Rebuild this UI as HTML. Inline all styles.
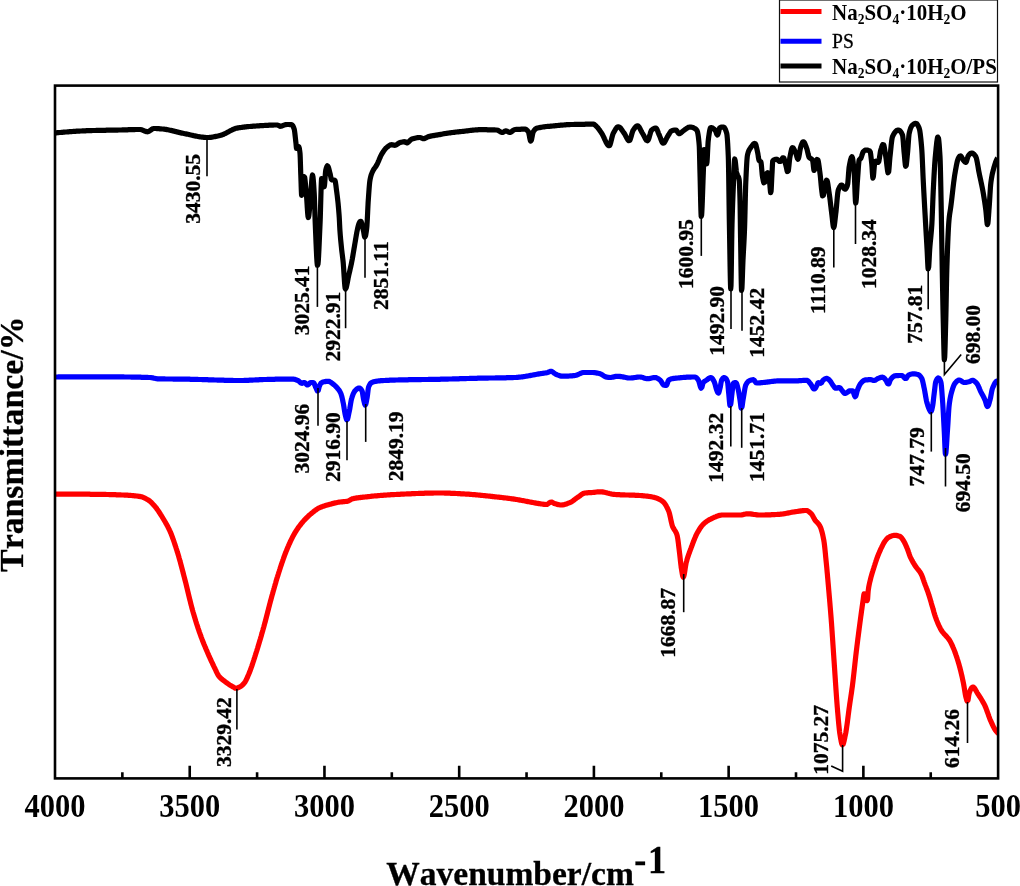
<!DOCTYPE html>
<html lang="en">
<head>
<meta charset="utf-8">
<title>FTIR spectra</title>
<style>
html,body{margin:0;padding:0;background:#fff;}
body{width:1020px;height:886px;overflow:hidden;}
svg{display:block;}
text{font-family:"Liberation Serif","Times New Roman",Times,serif;font-weight:bold;fill:#000;}
.ann{font-size:21.5px;stroke:#000;stroke-width:0.35;}
.tick{font-size:30.5px;text-anchor:middle;}
.title{font-size:33.5px;font-kerning:none;stroke:#000;stroke-width:0.3;}
.leg{font-size:21px;}
.lead{fill:none;stroke:#000;stroke-width:1.6;}
.curve{fill:none;stroke-width:5.2;stroke-linejoin:round;stroke-linecap:butt;}
</style>
</head>
<body>
<svg width="1020" height="886" viewBox="0 0 1020 886">
<rect x="0" y="0" width="1020" height="886" fill="#fff"/>
<defs><clipPath id="plot"><rect x="55.0" y="85.6" width="943.1" height="692.8"/></clipPath></defs>
<g clip-path="url(#plot)">
<path class="curve" stroke="#ff0000" d="M54.5 494.2L55.5 494.2L56.5 494.2L57.5 494.2L58.5 494.2L59.5 494.2L60.5 494.2L61.5 494.2L62.5 494.2L63.5 494.2L64.5 494.2L65.5 494.2L66.5 494.2L67.5 494.2L68.5 494.2L69.5 494.2L70.5 494.2L71.5 494.2L72.5 494.2L73.5 494.2L74.5 494.2L75.5 494.2L76.5 494.2L77.5 494.2L78.5 494.2L79.5 494.2L80.5 494.2L81.5 494.2L82.5 494.2L83.5 494.2L84.5 494.2L85.5 494.2L86.5 494.2L87.5 494.2L88.5 494.2L89.5 494.2L90.5 494.3L91.5 494.3L92.5 494.3L93.5 494.3L94.5 494.3L95.5 494.3L96.5 494.3L97.5 494.3L98.5 494.3L99.5 494.3L100.5 494.3L101.5 494.4L102.5 494.4L103.5 494.4L104.5 494.4L105.5 494.4L106.5 494.5L107.5 494.5L108.5 494.5L109.5 494.6L110.5 494.6L111.5 494.6L112.5 494.6L113.5 494.7L114.5 494.7L115.5 494.7L116.5 494.8L117.5 494.8L118.5 494.9L119.5 494.9L120.5 494.9L121.5 495.0L122.5 495.0L123.5 495.0L124.5 495.1L125.5 495.1L126.5 495.2L127.5 495.2L128.5 495.3L129.5 495.4L130.5 495.4L131.5 495.5L132.5 495.6L133.5 495.7L134.5 495.8L135.5 495.9L136.5 496.0L137.5 496.1L138.5 496.3L139.5 496.4L140.5 496.6L141.5 496.8L142.5 497.1L143.5 497.5L144.5 498.0L145.5 498.4L146.4 498.9L147.3 499.4L148.2 499.9L149.1 500.6L149.9 501.2L150.7 501.9L151.5 502.7L152.3 503.5L153.0 504.3L153.7 505.0L154.4 505.8L155.1 506.6L155.8 507.5L156.5 508.3L157.1 509.2L157.7 510.0L158.3 510.9L158.9 511.8L159.5 512.7L160.1 513.6L160.7 514.6L161.3 515.5L161.9 516.5L162.5 517.5L163.1 518.5L163.7 519.5L164.3 520.5L164.9 521.5L165.5 522.5L166.0 523.4L166.5 524.3L167.0 525.2L167.5 526.1L168.0 527.1L168.5 528.1L169.0 529.1L169.5 530.2L170.0 531.2L170.5 532.4L170.9 533.3L171.3 534.3L171.7 535.3L172.1 536.4L172.5 537.5L172.9 538.6L173.3 539.7L173.7 540.8L174.1 542.0L174.5 543.2L174.9 544.4L175.3 545.6L175.7 546.8L176.1 548.1L176.5 549.3L176.9 550.6L177.3 551.9L177.6 552.8L177.9 553.8L178.2 554.8L178.5 555.8L178.8 556.8L179.1 557.9L179.4 558.9L179.7 560.0L180.0 561.1L180.3 562.1L180.6 563.2L180.9 564.4L181.2 565.5L181.5 566.6L181.8 567.7L182.1 568.9L182.4 570.0L182.7 571.2L183.0 572.3L183.3 573.5L183.6 574.6L183.9 575.8L184.2 576.9L184.5 578.1L184.8 579.2L185.1 580.4L185.4 581.5L185.7 582.7L186.0 583.9L186.3 585.1L186.6 586.4L186.9 587.6L187.2 588.8L187.5 590.1L187.8 591.3L188.1 592.6L188.4 593.8L188.7 595.1L189.0 596.3L189.3 597.6L189.6 598.8L189.9 600.0L190.2 601.2L190.5 602.4L190.8 603.6L191.1 604.8L191.4 605.9L191.7 607.1L192.0 608.2L192.3 609.3L192.6 610.4L192.9 611.4L193.2 612.5L193.5 613.5L193.8 614.5L194.1 615.5L194.4 616.5L194.7 617.5L195.0 618.5L195.3 619.5L195.6 620.5L195.9 621.5L196.2 622.4L196.6 623.7L197.0 624.9L197.4 626.1L197.8 627.4L198.2 628.6L198.6 629.7L199.0 630.9L199.4 632.1L199.8 633.2L200.2 634.3L200.6 635.4L201.0 636.5L201.4 637.6L201.8 638.6L202.2 639.7L202.6 640.7L203.0 641.7L203.4 642.7L203.8 643.7L204.2 644.7L204.6 645.6L205.0 646.6L205.4 647.6L205.8 648.5L206.2 649.5L206.6 650.4L207.0 651.3L207.4 652.3L207.8 653.2L208.2 654.1L208.7 655.3L209.2 656.4L209.7 657.5L210.2 658.6L210.7 659.7L211.2 660.8L211.7 661.9L212.2 662.9L212.7 664.0L213.2 665.0L213.7 666.1L214.2 667.1L214.7 668.1L215.2 669.2L215.7 670.2L216.2 671.3L216.7 672.4L217.2 673.4L217.7 674.4L218.3 675.4L218.9 676.2L219.6 677.0L220.3 677.8L221.1 678.5L221.9 679.2L222.7 679.8L223.6 680.5L224.5 681.1L225.3 681.8L226.1 682.4L227.0 683.0L227.9 683.7L228.8 684.3L229.7 684.9L230.6 685.4L231.5 686.0L232.4 686.5L233.3 687.1L234.2 687.6L235.2 688.1L236.2 688.2L237.2 688.1L238.2 687.7L239.2 687.2L240.1 686.7L241.0 686.2L241.9 685.5L242.7 684.8L243.4 684.0L244.1 683.2L244.8 682.3L245.4 681.3L245.9 680.4L246.4 679.5L246.9 678.4L247.4 677.3L247.8 676.4L248.2 675.4L248.6 674.5L249.0 673.5L249.4 672.6L249.8 671.5L250.2 670.5L250.6 669.4L251.0 668.3L251.4 667.2L251.8 666.1L252.2 664.9L252.6 663.7L253.0 662.5L253.4 661.3L253.8 660.1L254.2 658.8L254.6 657.6L255.0 656.3L255.4 655.1L255.8 653.8L256.2 652.5L256.6 651.3L257.0 650.0L257.4 648.7L257.7 647.8L258.0 646.8L258.3 645.8L258.6 644.8L258.9 643.8L259.2 642.8L259.5 641.8L259.8 640.8L260.1 639.8L260.4 638.8L260.7 637.7L261.0 636.7L261.3 635.7L261.6 634.6L261.9 633.6L262.2 632.5L262.5 631.4L262.8 630.4L263.1 629.3L263.4 628.2L263.7 627.2L264.0 626.1L264.3 625.0L264.6 623.9L264.9 622.8L265.2 621.7L265.5 620.6L265.8 619.4L266.1 618.3L266.4 617.1L266.7 615.9L267.0 614.8L267.3 613.6L267.6 612.4L267.9 611.2L268.2 610.1L268.5 608.9L268.8 607.7L269.1 606.6L269.4 605.4L269.7 604.2L270.0 603.1L270.3 601.9L270.6 600.8L270.9 599.7L271.2 598.6L271.5 597.5L271.8 596.4L272.1 595.3L272.4 594.3L272.7 593.2L273.0 592.1L273.3 591.0L273.6 590.0L273.9 588.9L274.2 587.9L274.5 586.8L274.8 585.8L275.1 584.7L275.4 583.7L275.7 582.7L276.0 581.6L276.3 580.6L276.6 579.6L276.9 578.6L277.2 577.6L277.5 576.7L277.8 575.7L278.1 574.7L278.4 573.8L278.8 572.5L279.2 571.3L279.6 570.0L280.0 568.8L280.4 567.5L280.8 566.3L281.2 565.1L281.6 563.9L282.0 562.7L282.4 561.6L282.8 560.4L283.2 559.3L283.6 558.1L284.0 557.0L284.4 555.9L284.8 554.8L285.2 553.8L285.6 552.8L286.0 551.7L286.4 550.8L286.8 549.8L287.2 548.8L287.6 547.9L288.0 546.9L288.4 546.0L288.8 545.0L289.3 543.9L289.8 542.8L290.3 541.7L290.8 540.6L291.3 539.6L291.8 538.6L292.3 537.6L292.8 536.6L293.3 535.7L293.8 534.8L294.3 533.9L294.9 532.9L295.5 531.9L296.1 531.0L296.7 530.0L297.3 529.1L297.9 528.2L298.5 527.3L299.1 526.5L299.7 525.7L300.4 524.8L301.1 523.9L301.8 523.0L302.5 522.2L303.2 521.4L303.9 520.6L304.6 519.8L305.3 519.1L306.0 518.4L306.8 517.6L307.6 516.8L308.4 516.0L309.2 515.3L310.0 514.6L310.8 513.9L311.6 513.3L312.4 512.6L313.2 512.0L314.0 511.3L314.8 510.7L315.7 510.1L316.6 509.4L317.5 508.8L318.4 508.3L319.3 507.8L320.3 507.4L321.3 507.0L322.3 506.6L323.3 506.2L324.3 505.9L325.3 505.6L326.3 505.3L327.3 505.0L328.3 504.7L329.3 504.4L330.3 504.2L331.3 503.9L332.3 503.6L333.3 503.4L334.3 503.1L335.3 502.9L336.3 502.7L337.3 502.5L338.3 502.3L339.3 502.1L340.3 502.0L341.3 501.9L342.3 501.8L343.3 501.7L344.3 501.6L345.3 501.5L346.3 501.4L347.3 501.3L348.3 501.0L349.2 500.5L350.1 500.0L351.0 499.4L351.9 498.9L352.9 498.7L353.9 498.4L354.9 498.3L355.9 498.1L356.9 497.9L357.9 497.8L358.9 497.7L359.9 497.6L360.9 497.4L361.9 497.3L362.9 497.2L363.9 497.1L364.9 497.0L365.9 496.9L366.9 496.8L367.9 496.7L368.9 496.6L369.9 496.5L370.9 496.3L371.9 496.2L372.9 496.1L373.9 496.0L374.9 495.9L375.9 495.9L376.9 495.8L377.9 495.7L378.9 495.6L379.9 495.5L380.9 495.4L381.9 495.3L382.9 495.3L383.9 495.2L384.9 495.1L385.9 495.1L386.9 495.0L387.9 494.9L388.9 494.8L389.9 494.8L390.9 494.7L391.9 494.7L392.9 494.6L393.9 494.6L394.9 494.5L395.9 494.5L396.9 494.4L397.9 494.4L398.9 494.3L399.9 494.3L400.9 494.2L401.9 494.2L402.9 494.1L403.9 494.1L404.9 494.0L405.9 494.0L406.9 493.9L407.9 493.9L408.9 493.8L409.9 493.8L410.9 493.8L411.9 493.7L412.9 493.7L413.9 493.6L414.9 493.6L415.9 493.5L416.9 493.5L417.9 493.5L418.9 493.4L419.9 493.4L420.9 493.4L421.9 493.3L422.9 493.3L423.9 493.3L424.9 493.2L425.9 493.2L426.9 493.2L427.9 493.2L428.9 493.1L429.9 493.1L430.9 493.1L431.9 493.1L432.9 493.1L433.9 493.0L434.9 493.0L435.9 493.0L436.9 493.0L437.9 493.0L438.9 493.0L439.9 493.0L440.9 493.0L441.9 493.0L442.9 493.0L443.9 493.0L444.9 493.1L445.9 493.1L446.9 493.1L447.9 493.1L448.9 493.2L449.9 493.2L450.9 493.3L451.9 493.3L452.9 493.3L453.9 493.4L454.9 493.4L455.9 493.5L456.9 493.5L457.9 493.6L458.9 493.7L459.9 493.7L460.9 493.8L461.9 493.8L462.9 493.9L463.9 493.9L464.9 494.0L465.9 494.1L466.9 494.1L467.9 494.2L468.9 494.2L469.9 494.3L470.9 494.4L471.9 494.5L472.9 494.6L473.9 494.6L474.9 494.7L475.9 494.8L476.9 494.9L477.9 495.0L478.9 495.1L479.9 495.2L480.9 495.3L481.9 495.4L482.9 495.5L483.9 495.6L484.9 495.7L485.9 495.8L486.9 495.9L487.9 496.0L488.9 496.1L489.9 496.2L490.9 496.3L491.9 496.4L492.9 496.6L493.9 496.7L494.9 496.8L495.9 496.9L496.9 497.0L497.9 497.1L498.9 497.2L499.9 497.3L500.9 497.4L501.9 497.5L502.9 497.7L503.9 497.8L504.9 497.9L505.9 498.0L506.9 498.1L507.9 498.3L508.9 498.4L509.9 498.5L510.9 498.7L511.9 498.8L512.9 498.9L513.9 499.1L514.9 499.2L515.9 499.4L516.9 499.5L517.9 499.7L518.9 499.9L519.9 500.1L520.9 500.3L521.9 500.5L522.9 500.6L523.9 500.8L524.9 501.0L525.9 501.2L526.9 501.4L527.9 501.6L528.9 501.8L529.9 502.0L530.9 502.2L531.9 502.3L532.9 502.5L533.9 502.7L534.9 502.9L535.9 503.1L536.9 503.3L537.9 503.4L538.9 503.6L539.9 503.7L540.9 503.9L541.9 504.0L542.9 504.2L543.9 504.3L544.9 504.4L545.9 504.5L546.9 504.4L547.8 503.9L548.7 503.3L549.6 502.6L550.5 502.2L551.5 502.0L552.5 502.4L553.4 502.9L554.3 503.5L555.3 503.8L556.3 504.1L557.3 504.4L558.3 504.6L559.3 504.8L560.3 505.0L561.3 505.0L562.3 504.9L563.3 504.8L564.3 504.6L565.3 504.3L566.3 504.0L567.3 503.6L568.3 503.2L569.3 502.8L570.3 502.4L571.2 501.9L572.1 501.4L573.0 500.8L573.9 500.1L574.7 499.5L575.5 498.9L576.4 498.2L577.3 497.6L578.2 497.0L579.1 496.4L579.9 495.8L580.7 495.2L581.6 494.5L582.5 493.9L583.4 493.5L584.4 493.1L585.4 493.0L586.4 492.9L587.4 492.8L588.4 492.7L589.4 492.7L590.4 492.6L591.4 492.6L592.4 492.5L593.4 492.4L594.4 492.3L595.4 492.2L596.4 492.0L597.4 491.9L598.4 491.8L599.4 491.8L600.4 491.8L601.4 491.8L602.4 491.9L603.4 492.1L604.4 492.3L605.4 492.5L606.4 492.7L607.4 493.0L608.4 493.2L609.4 493.5L610.4 493.7L611.4 494.0L612.4 494.2L613.4 494.3L614.4 494.4L615.4 494.5L616.4 494.6L617.4 494.6L618.4 494.7L619.4 494.7L620.4 494.8L621.4 494.8L622.4 494.9L623.4 494.9L624.4 494.9L625.4 495.0L626.4 495.0L627.4 495.0L628.4 495.0L629.4 495.1L630.4 495.1L631.4 495.1L632.4 495.2L633.4 495.2L634.4 495.2L635.4 495.3L636.4 495.3L637.4 495.4L638.4 495.4L639.4 495.5L640.4 495.5L641.4 495.6L642.4 495.7L643.4 495.8L644.4 495.9L645.4 496.0L646.4 496.1L647.4 496.2L648.4 496.3L649.4 496.5L650.4 496.6L651.4 496.8L652.4 497.0L653.4 497.2L654.4 497.4L655.4 497.7L656.4 498.1L657.4 498.4L658.4 498.9L659.3 499.3L660.2 499.8L661.1 500.3L662.0 500.9L662.9 501.6L663.7 502.3L664.4 503.2L665.0 504.0L665.6 504.9L666.2 505.9L666.7 506.9L667.2 507.8L667.7 508.9L668.2 510.0L668.6 510.9L669.0 511.9L669.3 512.9L669.6 514.0L669.9 515.3L670.2 516.6L670.5 518.0L670.8 519.5L671.1 520.9L671.4 522.2L671.7 523.5L672.0 524.7L672.3 525.7L672.7 526.8L673.2 527.8L673.7 528.7L674.3 529.7L674.9 530.5L675.5 531.5L676.0 532.4L676.5 533.6L676.9 534.7L677.2 535.7L677.5 537.2L677.7 538.4L677.9 539.7L678.1 541.2L678.3 542.7L678.5 544.3L678.7 546.0L678.9 547.6L679.1 549.3L679.3 550.9L679.5 552.5L679.7 554.1L679.9 555.9L680.1 557.8L680.3 559.6L680.5 561.5L680.7 563.3L680.9 565.0L681.1 566.5L681.2 567.5L681.5 569.1L681.7 570.4L681.9 571.7L682.1 572.9L682.3 574.1L682.5 575.1L682.8 576.3L683.3 577.2L683.9 576.0L684.2 574.7L684.4 573.6L684.6 572.4L684.8 571.1L685.0 569.8L685.2 568.4L685.4 567.1L685.6 565.8L685.8 564.7L686.0 563.6L686.2 562.5L686.6 561.2L686.9 560.1L687.2 559.1L687.5 558.1L687.8 557.1L688.2 555.9L688.6 554.7L689.0 553.6L689.4 552.5L689.8 551.4L690.2 550.3L690.6 549.2L691.0 548.2L691.4 547.1L691.8 546.0L692.2 545.0L692.6 543.9L693.0 542.8L693.4 541.8L693.8 540.7L694.2 539.7L694.6 538.7L695.0 537.8L695.4 536.8L695.9 535.7L696.4 534.6L696.9 533.6L697.4 532.7L697.9 531.8L698.5 530.8L699.1 529.8L699.7 528.8L700.3 527.9L700.9 527.1L701.5 526.3L702.2 525.4L702.9 524.6L703.7 523.8L704.5 523.1L705.3 522.4L706.1 521.8L707.0 521.2L707.9 520.6L708.8 520.0L709.7 519.5L710.6 519.1L711.6 518.6L712.6 518.1L713.6 517.7L714.6 517.2L715.6 516.8L716.6 516.3L717.6 516.0L718.6 515.6L719.6 515.4L720.6 515.2L721.6 515.0L722.6 515.0L723.6 515.0L724.6 515.0L725.6 515.0L726.6 515.0L727.6 515.0L728.6 515.0L729.6 515.0L730.6 515.0L731.6 515.0L732.6 515.0L733.6 515.0L734.6 515.0L735.6 515.0L736.6 515.0L737.6 515.0L738.6 515.0L739.6 515.0L740.6 515.0L741.6 514.9L742.6 514.7L743.6 514.4L744.6 514.2L745.6 514.0L746.6 513.8L747.6 513.8L748.6 513.8L749.6 513.8L750.6 513.9L751.6 514.1L752.6 514.2L753.6 514.4L754.6 514.5L755.6 514.6L756.6 514.8L757.6 514.9L758.6 515.0L759.6 515.0L760.6 515.0L761.6 515.0L762.6 515.0L763.6 515.0L764.6 515.0L765.6 514.9L766.6 514.9L767.6 514.9L768.6 514.8L769.6 514.8L770.6 514.8L771.6 514.7L772.6 514.7L773.6 514.6L774.6 514.6L775.6 514.5L776.6 514.5L777.6 514.4L778.6 514.3L779.6 514.3L780.6 514.2L781.6 514.1L782.6 514.0L783.6 513.8L784.6 513.7L785.6 513.5L786.6 513.3L787.6 513.1L788.6 512.9L789.6 512.7L790.6 512.5L791.6 512.3L792.6 512.1L793.6 512.0L794.6 511.8L795.6 511.7L796.6 511.5L797.6 511.4L798.6 511.2L799.6 511.1L800.6 510.9L801.6 510.8L802.6 510.7L803.6 510.6L804.6 510.5L805.6 510.5L806.6 510.5L807.6 510.8L808.5 511.4L809.3 512.0L810.1 512.7L810.9 513.4L811.6 514.1L812.2 515.0L812.8 516.0L813.3 517.0L813.8 517.9L814.3 518.9L814.9 519.9L815.5 520.7L816.2 521.5L816.9 522.2L817.6 522.9L818.3 523.7L819.0 524.6L819.6 525.5L820.1 526.4L820.6 527.6L821.0 528.6L821.4 529.9L821.7 530.9L822.0 532.0L822.3 533.2L822.6 534.4L822.9 535.8L823.2 537.2L823.4 538.2L823.6 539.2L823.8 540.3L824.0 541.5L824.2 542.9L824.4 544.4L824.6 546.1L824.8 547.9L825.0 549.8L825.2 551.8L825.3 552.8L825.4 553.8L825.5 554.8L825.6 555.9L825.7 556.9L825.8 557.9L825.9 559.0L826.0 560.0L826.1 561.0L826.2 562.0L826.4 564.0L826.5 565.0L826.6 566.0L826.7 567.1L826.8 568.1L826.9 569.2L827.0 570.3L827.1 571.4L827.2 572.4L827.3 573.5L827.4 574.6L827.5 575.8L827.6 576.9L827.7 578.0L827.8 579.1L827.9 580.3L828.0 581.4L828.1 582.5L828.2 583.7L828.3 584.8L828.4 586.0L828.5 587.1L828.6 588.3L828.7 589.4L828.8 590.6L828.9 591.7L829.0 592.9L829.1 594.0L829.2 595.2L829.3 596.3L829.4 597.5L829.5 598.6L829.6 599.8L829.7 601.0L829.8 602.1L829.9 603.3L830.0 604.5L830.1 605.7L830.2 606.9L830.3 608.1L830.4 609.3L830.5 610.5L830.6 611.7L830.7 613.0L830.8 614.2L830.9 615.5L831.0 616.8L831.1 618.0L831.2 619.3L831.3 620.7L831.4 622.0L831.5 623.3L831.6 624.7L831.7 626.1L831.8 627.5L831.9 628.9L832.0 630.4L832.1 631.8L832.2 633.3L832.3 634.8L832.4 636.2L832.5 637.7L832.6 639.2L832.7 640.7L832.8 642.2L832.9 643.7L833.0 645.2L833.1 646.7L833.2 648.2L833.3 649.7L833.4 651.2L833.5 652.7L833.6 654.2L833.7 655.6L833.8 657.1L833.9 658.6L834.0 660.0L834.1 661.4L834.2 662.9L834.3 664.4L834.4 665.8L834.5 667.3L834.6 668.8L834.7 670.3L834.8 671.8L834.9 673.3L835.0 674.8L835.1 676.3L835.2 677.8L835.3 679.3L835.4 680.8L835.5 682.3L835.6 683.8L835.7 685.3L835.8 686.8L835.9 688.3L836.0 689.7L836.1 691.2L836.2 692.6L836.3 694.1L836.4 695.5L836.5 696.9L836.6 698.3L836.7 699.6L836.8 701.0L836.9 702.3L837.0 703.6L837.1 704.9L837.2 706.2L837.3 707.4L837.4 708.6L837.5 709.8L837.6 711.0L837.7 712.2L837.8 713.3L837.9 714.5L838.0 715.6L838.1 716.8L838.2 717.9L838.3 719.1L838.4 720.2L838.5 721.3L838.6 722.4L838.7 723.5L838.8 724.6L838.9 725.6L839.0 726.6L839.2 728.5L839.4 730.3L839.6 732.0L839.8 733.4L840.0 734.7L840.2 735.9L840.4 737.1L840.6 738.2L840.8 739.3L841.0 740.4L841.2 741.4L841.5 742.8L841.8 743.9L842.2 744.8L843.1 744.3L843.5 743.2L843.8 742.1L844.1 740.9L844.4 739.5L844.7 738.1L845.0 736.6L845.3 735.2L845.6 733.7L845.8 732.7L846.0 731.5L846.2 730.3L846.4 729.0L846.6 727.6L846.8 726.2L847.0 724.8L847.2 723.3L847.4 721.8L847.6 720.2L847.8 718.7L848.0 717.1L848.2 715.5L848.4 714.0L848.6 712.4L848.8 710.9L849.0 709.4L849.2 707.9L849.4 706.5L849.6 705.1L849.8 703.7L850.0 702.4L850.2 701.0L850.4 699.7L850.6 698.4L850.8 697.0L851.0 695.7L851.2 694.3L851.4 693.0L851.6 691.6L851.8 690.2L852.0 688.7L852.2 687.3L852.4 685.8L852.6 684.2L852.8 682.6L853.0 681.0L853.2 679.3L853.4 677.6L853.6 675.8L853.8 674.0L854.0 672.2L854.2 670.4L854.4 668.5L854.6 666.7L854.8 664.9L855.0 663.0L855.2 661.2L855.4 659.4L855.6 657.6L855.8 655.8L856.0 654.1L856.2 652.4L856.4 650.8L856.6 649.1L856.8 647.5L857.0 645.8L857.2 644.2L857.4 642.6L857.6 641.0L857.8 639.4L858.0 637.8L858.2 636.3L858.4 634.7L858.6 633.2L858.8 631.6L859.0 630.1L859.2 628.5L859.4 627.0L859.6 625.5L859.8 624.0L860.0 622.5L860.2 621.0L860.4 619.5L860.6 618.0L860.8 616.5L861.0 615.1L861.2 613.6L861.4 612.1L861.6 610.7L861.8 609.3L862.0 607.8L862.2 606.4L862.4 605.1L862.6 603.7L862.8 602.3L863.0 601.0L863.2 599.5L863.4 597.9L863.6 596.3L863.8 594.9L864.0 593.9L865.0 594.1L865.6 595.2L866.1 596.3L866.4 597.5L866.6 598.6L866.8 599.6L867.1 600.7L867.6 599.1L867.7 597.8L867.8 596.4L867.9 594.9L868.0 593.4L868.1 592.1L868.2 590.9L868.4 589.3L868.6 588.0L868.8 586.8L869.0 585.7L869.2 584.7L869.5 583.3L869.8 582.0L870.1 580.8L870.4 579.6L870.7 578.4L871.0 577.2L871.3 576.1L871.6 575.0L871.9 574.0L872.2 573.0L872.5 572.0L872.8 571.1L873.2 569.8L873.6 568.6L874.0 567.3L874.4 566.0L874.8 564.8L875.2 563.5L875.6 562.3L876.0 561.0L876.4 559.9L876.8 558.7L877.2 557.6L877.6 556.5L878.0 555.5L878.4 554.5L878.8 553.5L879.2 552.6L879.7 551.4L880.2 550.3L880.7 549.2L881.2 548.2L881.7 547.2L882.2 546.1L882.7 545.1L883.2 544.1L883.7 543.2L884.3 542.2L884.9 541.3L885.5 540.5L886.1 539.7L886.8 538.8L887.6 538.0L888.5 537.4L889.4 536.9L890.3 536.5L891.3 536.1L892.3 535.7L893.3 535.5L894.3 535.3L895.3 535.3L896.3 535.4L897.3 535.6L898.3 535.9L899.3 536.2L900.3 536.7L901.1 537.3L901.8 538.2L902.4 539.0L903.0 539.9L903.6 540.9L904.2 541.9L904.7 542.8L905.2 543.9L905.7 545.0L906.2 546.1L906.6 547.0L907.0 548.0L907.4 548.9L907.8 550.0L908.2 551.1L908.6 552.3L909.0 553.4L909.4 554.6L909.8 555.7L910.2 556.7L910.6 557.6L911.1 558.6L911.6 559.6L912.1 560.6L912.6 561.5L913.1 562.4L913.7 563.4L914.3 564.3L914.9 565.3L915.5 566.2L916.1 567.1L916.8 568.0L917.5 568.9L918.2 569.7L918.9 570.6L919.6 571.5L920.2 572.4L920.8 573.4L921.3 574.3L921.8 575.4L922.2 576.4L922.6 577.5L923.0 578.6L923.4 579.8L923.8 580.9L924.2 582.1L924.6 583.2L925.0 584.3L925.4 585.4L925.8 586.4L926.2 587.4L926.6 588.5L927.0 589.5L927.4 590.6L927.8 591.7L928.2 592.9L928.6 594.1L929.0 595.4L929.3 596.3L929.6 597.3L929.9 598.3L930.2 599.3L930.5 600.3L930.8 601.3L931.1 602.3L931.4 603.4L931.7 604.4L932.0 605.4L932.3 606.4L932.6 607.4L932.9 608.5L933.2 609.6L933.5 610.6L933.8 611.7L934.1 612.7L934.4 613.7L934.7 614.7L935.1 615.9L935.5 617.1L935.9 618.2L936.3 619.3L936.7 620.4L937.1 621.4L937.5 622.4L937.9 623.4L938.3 624.3L938.8 625.4L939.3 626.4L939.8 627.4L940.3 628.4L940.8 629.3L941.4 630.3L942.0 631.2L942.6 632.1L943.3 632.9L944.0 633.7L944.7 634.5L945.4 635.2L946.1 636.0L946.8 636.8L947.5 637.6L948.2 638.4L948.9 639.3L949.5 640.2L950.1 641.1L950.6 642.1L951.1 643.1L951.6 644.1L952.1 645.2L952.6 646.3L953.1 647.5L953.5 648.4L953.9 649.4L954.3 650.4L954.7 651.4L955.1 652.5L955.5 653.6L955.9 654.8L956.3 655.9L956.7 657.1L957.1 658.3L957.5 659.6L957.8 660.5L958.1 661.5L958.4 662.5L958.7 663.5L959.0 664.5L959.3 665.6L959.6 666.7L959.9 667.8L960.2 669.0L960.5 670.1L960.8 671.3L961.1 672.6L961.4 673.8L961.7 675.1L962.0 676.4L962.3 677.8L962.6 679.2L962.9 680.6L963.2 682.0L963.5 683.5L963.7 684.5L963.9 685.7L964.1 686.9L964.3 688.1L964.5 689.4L964.7 690.6L964.9 691.9L965.1 693.1L965.3 694.2L965.5 695.3L965.8 696.6L966.1 697.8L966.4 698.9L966.7 700.0L967.1 701.1L968.0 700.2L968.2 699.1L968.4 697.9L968.6 696.5L968.8 695.2L969.0 694.1L969.3 692.7L969.7 691.7L970.1 690.7L970.6 689.7L971.1 688.7L971.7 687.8L972.5 687.1L973.5 687.2L974.3 687.9L974.9 688.8L975.5 689.8L976.0 690.7L976.5 691.6L977.0 692.5L977.6 693.5L978.2 694.4L978.8 695.3L979.4 696.2L980.0 697.1L980.6 698.0L981.2 699.0L981.8 700.0L982.4 701.0L982.9 701.9L983.4 702.8L983.9 703.7L984.4 704.7L984.9 705.7L985.4 706.8L985.8 707.8L986.2 708.8L986.6 709.9L987.0 711.0L987.4 712.1L987.8 713.2L988.2 714.3L988.6 715.5L989.0 716.6L989.4 717.6L989.8 718.7L990.2 719.7L990.6 720.6L991.1 721.7L991.6 722.9L992.1 724.0L992.6 725.0L993.1 726.1L993.6 727.1L994.1 728.0L994.6 728.9L995.2 729.9L995.8 730.7L996.5 731.6L997.2 732.4L998.0 733.2L998.4 733.5"/>
<path class="curve" stroke="#0000ff" d="M54.5 377.0L55.5 377.0L56.5 377.0L57.5 377.0L58.5 376.9L59.5 376.9L60.5 376.9L61.5 376.9L62.5 376.9L63.5 376.9L64.5 376.9L65.5 376.9L66.5 376.9L67.5 376.8L68.5 376.8L69.5 376.8L70.5 376.8L71.5 376.8L72.5 376.8L73.5 376.8L74.5 376.8L75.5 376.8L76.5 376.8L77.5 376.8L78.5 376.8L79.5 376.8L80.5 376.8L81.5 376.8L82.5 376.8L83.5 376.8L84.5 376.8L85.5 376.8L86.5 376.8L87.5 376.8L88.5 376.8L89.5 376.8L90.5 376.8L91.5 376.8L92.5 376.8L93.5 376.8L94.5 376.8L95.5 376.8L96.5 376.8L97.5 376.8L98.5 376.8L99.5 376.8L100.5 376.8L101.5 376.8L102.5 376.8L103.5 376.8L104.5 376.8L105.5 376.8L106.5 376.8L107.5 376.8L108.5 376.8L109.5 376.8L110.5 376.8L111.5 376.8L112.5 376.8L113.5 376.8L114.5 376.8L115.5 376.9L116.5 376.9L117.5 376.9L118.5 376.9L119.5 376.9L120.5 376.9L121.5 376.9L122.5 376.9L123.5 376.9L124.5 377.0L125.5 377.0L126.5 377.0L127.5 377.0L128.5 377.0L129.5 377.0L130.5 377.0L131.5 377.1L132.5 377.1L133.5 377.1L134.5 377.1L135.5 377.1L136.5 377.2L137.5 377.2L138.5 377.2L139.5 377.2L140.5 377.2L141.5 377.3L142.5 377.3L143.5 377.3L144.5 377.3L145.5 377.4L146.5 377.4L147.5 377.4L148.5 377.5L149.5 377.5L150.5 377.5L151.5 377.7L152.5 377.8L153.5 378.1L154.5 378.3L155.5 378.5L156.5 378.7L157.5 378.8L158.5 378.8L159.5 378.8L160.5 378.8L161.5 378.9L162.5 378.9L163.5 378.9L164.5 378.9L165.5 379.0L166.5 379.0L167.5 379.0L168.5 379.0L169.5 379.0L170.5 379.0L171.5 379.0L172.5 379.0L173.5 379.1L174.5 379.1L175.5 379.1L176.5 379.1L177.5 379.1L178.5 379.1L179.5 379.1L180.5 379.1L181.5 379.1L182.5 379.1L183.5 379.2L184.5 379.2L185.5 379.2L186.5 379.2L187.5 379.2L188.5 379.2L189.5 379.2L190.5 379.3L191.5 379.3L192.5 379.3L193.5 379.3L194.5 379.3L195.5 379.4L196.5 379.4L197.5 379.4L198.5 379.5L199.5 379.5L200.5 379.5L201.5 379.5L202.5 379.6L203.5 379.6L204.5 379.6L205.5 379.7L206.5 379.7L207.5 379.7L208.5 379.8L209.5 379.8L210.5 379.8L211.5 379.9L212.5 379.9L213.5 379.9L214.5 380.0L215.5 380.0L216.5 380.0L217.5 380.1L218.5 380.1L219.5 380.1L220.5 380.2L221.5 380.2L222.5 380.2L223.5 380.2L224.5 380.3L225.5 380.3L226.5 380.3L227.5 380.3L228.5 380.4L229.5 380.4L230.5 380.4L231.5 380.4L232.5 380.4L233.5 380.5L234.5 380.5L235.5 380.5L236.5 380.5L237.5 380.5L238.5 380.5L239.5 380.5L240.5 380.5L241.5 380.5L242.5 380.5L243.5 380.5L244.5 380.4L245.5 380.4L246.5 380.4L247.5 380.3L248.5 380.3L249.5 380.2L250.5 380.2L251.5 380.1L252.5 380.1L253.5 380.0L254.5 380.0L255.5 379.9L256.5 379.9L257.5 379.8L258.5 379.8L259.5 379.7L260.5 379.7L261.5 379.6L262.5 379.6L263.5 379.5L264.5 379.5L265.5 379.5L266.5 379.5L267.5 379.4L268.5 379.4L269.5 379.4L270.5 379.4L271.5 379.3L272.5 379.3L273.5 379.3L274.5 379.3L275.5 379.2L276.5 379.2L277.5 379.2L278.5 379.2L279.5 379.2L280.5 379.2L281.5 379.2L282.5 379.2L283.5 379.2L284.5 379.2L285.5 379.2L286.5 379.2L287.5 379.2L288.5 379.2L289.5 379.2L290.5 379.2L291.5 379.2L292.5 379.2L293.5 379.2L294.5 379.3L295.5 379.6L296.5 380.0L297.5 380.4L298.5 380.9L299.3 381.5L300.1 382.3L300.9 383.0L301.9 383.3L302.9 382.9L303.9 382.5L304.9 382.8L305.7 383.6L306.4 384.4L307.3 385.0L308.3 384.6L309.1 383.8L309.8 383.0L310.7 382.5L311.7 382.5L312.7 382.5L313.7 382.7L314.3 383.8L314.7 384.8L315.1 385.8L315.5 386.8L316.0 387.9L316.4 388.9L316.8 389.9L317.3 390.9L318.3 390.4L318.6 389.2L318.9 387.9L319.2 386.7L319.6 385.6L320.1 384.6L320.6 383.7L321.2 382.9L322.1 382.4L323.1 382.0L324.1 381.8L325.1 381.6L326.1 381.4L327.1 381.3L328.1 381.3L329.1 381.4L330.1 381.9L331.0 382.4L331.8 383.0L332.6 383.7L333.4 384.3L334.2 384.9L335.0 385.6L335.8 386.4L336.5 387.2L337.2 387.9L337.9 388.8L338.6 389.6L339.2 390.4L339.8 391.4L340.3 392.3L340.8 393.3L341.2 394.4L341.5 395.4L341.8 396.5L342.1 397.7L342.4 399.0L342.7 400.4L343.0 401.9L343.3 403.3L343.5 404.3L343.7 405.5L343.9 406.7L344.1 408.1L344.3 409.4L344.5 410.7L344.7 411.9L344.9 413.1L345.1 414.1L345.4 415.4L345.7 416.6L346.0 417.8L346.3 418.8L346.7 419.8L347.6 419.0L347.9 417.9L348.2 416.6L348.5 415.1L348.7 414.1L348.9 413.1L349.2 411.7L349.5 410.2L349.7 409.2L349.9 408.0L350.1 406.8L350.3 405.6L350.5 404.3L350.7 403.1L350.9 402.0L351.1 400.9L351.3 399.9L351.6 398.6L351.9 397.7L352.3 396.4L352.7 395.3L353.1 394.2L353.5 393.3L354.0 392.3L354.6 391.3L355.3 390.5L356.1 389.7L356.9 389.0L357.8 388.4L358.8 388.0L359.8 388.1L360.6 388.8L361.3 389.7L361.9 390.6L362.3 391.7L362.5 392.8L362.7 394.0L362.9 395.3L363.1 396.6L363.3 397.9L363.5 399.1L363.8 400.4L364.1 401.7L364.4 402.9L364.7 404.0L365.2 405.0L365.8 404.1L366.1 402.9L366.4 401.5L366.6 400.4L366.8 399.3L367.0 398.3L367.2 397.1L367.4 395.7L367.6 394.1L367.8 392.4L368.0 390.7L368.2 389.2L368.4 387.9L368.7 386.7L369.1 385.8L369.6 384.8L370.2 383.8L370.9 383.0L371.8 382.5L372.8 382.1L373.8 381.8L374.8 381.5L375.8 381.3L376.8 381.2L377.8 381.0L378.8 380.9L379.8 380.8L380.8 380.7L381.8 380.7L382.8 380.6L383.8 380.5L384.8 380.5L385.8 380.4L386.8 380.4L387.8 380.3L388.8 380.3L389.8 380.2L390.8 380.2L391.8 380.1L392.8 380.1L393.8 380.1L394.8 380.1L395.8 380.0L396.8 380.0L397.8 380.0L398.8 379.9L399.8 379.9L400.8 379.9L401.8 379.9L402.8 379.9L403.8 379.8L404.8 379.8L405.8 379.8L406.8 379.8L407.8 379.8L408.8 379.7L409.8 379.7L410.8 379.7L411.8 379.7L412.8 379.7L413.8 379.7L414.8 379.6L415.8 379.6L416.8 379.6L417.8 379.6L418.8 379.6L419.8 379.6L420.8 379.6L421.8 379.5L422.8 379.5L423.8 379.5L424.8 379.5L425.8 379.5L426.8 379.5L427.8 379.5L428.8 379.4L429.8 379.4L430.8 379.4L431.8 379.4L432.8 379.4L433.8 379.4L434.8 379.3L435.8 379.3L436.8 379.3L437.8 379.3L438.8 379.3L439.8 379.3L440.8 379.2L441.8 379.2L442.8 379.2L443.8 379.2L444.8 379.1L445.8 379.1L446.8 379.1L447.8 379.1L448.8 379.0L449.8 379.0L450.8 379.0L451.8 379.0L452.8 378.9L453.8 378.9L454.8 378.9L455.8 378.8L456.8 378.8L457.8 378.8L458.8 378.8L459.8 378.7L460.8 378.7L461.8 378.7L462.8 378.6L463.8 378.6L464.8 378.6L465.8 378.6L466.8 378.5L467.8 378.5L468.8 378.5L469.8 378.4L470.8 378.4L471.8 378.4L472.8 378.4L473.8 378.3L474.8 378.3L475.8 378.3L476.8 378.3L477.8 378.2L478.8 378.2L479.8 378.2L480.8 378.2L481.8 378.2L482.8 378.1L483.8 378.1L484.8 378.1L485.8 378.1L486.8 378.1L487.8 378.1L488.8 378.0L489.8 378.0L490.8 378.0L491.8 378.0L492.8 378.0L493.8 378.0L494.8 378.0L495.8 377.9L496.8 377.9L497.8 377.9L498.8 377.9L499.8 377.9L500.8 377.9L501.8 377.9L502.8 377.8L503.8 377.8L504.8 377.8L505.8 377.8L506.8 377.7L507.8 377.7L508.8 377.7L509.8 377.7L510.8 377.6L511.8 377.6L512.8 377.6L513.8 377.5L514.8 377.5L515.8 377.5L516.8 377.4L517.8 377.3L518.8 377.2L519.8 377.1L520.8 377.0L521.8 376.9L522.8 376.8L523.8 376.6L524.8 376.5L525.8 376.3L526.8 376.1L527.8 376.0L528.8 375.8L529.8 375.6L530.8 375.4L531.8 375.2L532.8 375.0L533.8 374.8L534.8 374.7L535.8 374.5L536.8 374.3L537.8 374.1L538.8 373.9L539.8 373.8L540.8 373.6L541.8 373.5L542.8 373.3L543.8 373.2L544.8 373.0L545.8 372.9L546.8 372.7L547.8 372.4L548.8 372.0L549.8 371.6L550.8 371.3L551.8 371.4L552.7 371.9L553.5 372.6L554.3 373.3L555.2 373.8L556.2 374.3L557.2 374.8L558.2 375.2L559.2 375.6L560.2 375.9L561.2 376.1L562.2 376.2L563.2 376.2L564.2 376.2L565.2 376.2L566.2 376.2L567.2 376.1L568.2 376.1L569.2 376.0L570.2 375.9L571.2 375.9L572.2 375.8L573.2 375.7L574.2 375.6L575.2 375.5L576.2 375.3L577.2 374.9L578.2 374.5L579.2 374.0L580.2 373.5L581.2 373.1L582.2 372.7L583.2 372.5L584.2 372.5L585.2 372.5L586.2 372.5L587.2 372.5L588.2 372.5L589.2 372.5L590.2 372.5L591.2 372.5L592.2 372.5L593.2 372.5L594.2 372.6L595.2 372.7L596.2 372.9L597.2 373.1L598.2 373.3L599.2 373.5L600.2 373.8L601.2 374.2L602.1 374.7L603.0 375.3L603.9 375.9L604.8 376.4L605.8 376.9L606.8 377.1L607.8 377.3L608.8 377.4L609.8 377.5L610.8 377.5L611.8 377.3L612.8 377.1L613.8 376.9L614.8 376.6L615.8 376.4L616.8 376.3L617.8 376.3L618.8 376.3L619.8 376.4L620.8 376.6L621.8 376.7L622.8 376.9L623.8 377.1L624.8 377.3L625.8 377.5L626.8 377.7L627.8 377.9L628.8 378.0L629.8 378.0L630.8 378.0L631.8 377.9L632.8 377.8L633.8 377.7L634.8 377.5L635.8 377.4L636.8 377.2L637.8 377.1L638.8 377.0L639.8 377.0L640.8 377.1L641.8 377.3L642.8 377.5L643.8 377.9L644.8 378.2L645.8 378.5L646.8 378.7L647.8 378.7L648.8 378.7L649.8 378.5L650.8 378.2L651.8 378.0L652.8 377.8L653.8 377.6L654.8 377.5L655.8 377.6L656.8 377.9L657.7 378.4L658.6 379.0L659.5 379.6L660.3 380.3L661.0 381.2L661.6 382.2L662.2 383.2L662.8 384.2L663.5 384.9L664.5 385.2L665.5 385.4L666.5 385.4L667.0 384.4L667.4 383.2L667.8 382.0L668.2 380.9L668.8 380.0L669.7 379.5L670.7 379.1L671.7 378.8L672.7 378.6L673.7 378.4L674.7 378.3L675.7 378.2L676.7 378.1L677.7 378.0L678.7 377.9L679.7 377.8L680.7 377.7L681.7 377.6L682.7 377.5L683.7 377.4L684.7 377.4L685.7 377.3L686.7 377.2L687.7 377.2L688.7 377.1L689.7 377.1L690.7 377.1L691.7 377.0L692.7 377.0L693.7 377.0L694.7 377.0L695.7 377.2L696.6 377.9L697.3 378.7L698.0 379.6L698.6 380.6L699.0 381.7L699.3 382.8L699.6 383.9L699.9 385.0L700.2 386.1L700.6 387.3L701.1 388.2L701.9 387.2L702.2 386.1L702.5 384.9L702.8 383.8L703.2 382.7L703.9 381.8L704.7 381.2L705.6 380.7L706.5 380.1L707.4 379.5L708.2 378.8L709.0 378.2L709.9 377.7L710.9 377.5L711.8 378.0L712.5 378.8L713.1 379.7L713.7 380.8L714.2 381.7L714.6 382.7L715.0 384.0L715.3 385.1L715.6 386.2L715.9 387.4L716.2 388.5L716.5 389.5L716.9 390.5L717.3 391.6L717.7 392.6L718.6 393.0L719.0 392.1L719.3 391.0L719.6 389.9L719.9 388.7L720.2 387.4L720.4 386.4L720.6 385.2L720.8 384.0L721.0 382.9L721.2 381.8L721.5 380.5L722.0 379.5L722.6 378.6L723.3 377.9L724.3 377.5L725.3 378.0L726.0 378.7L726.6 379.7L727.1 380.7L727.5 381.7L727.8 383.4L728.0 385.4L728.1 386.5L728.2 387.7L728.3 388.9L728.4 390.1L728.5 391.2L728.6 392.3L728.8 394.3L728.9 395.3L729.0 396.4L729.1 397.5L729.2 398.7L729.3 399.8L729.4 400.9L729.5 402.0L729.7 403.9L729.9 405.3L730.7 404.5L730.9 403.1L731.1 401.4L731.3 399.6L731.5 397.7L731.7 395.8L731.9 394.1L732.1 392.5L732.3 390.7L732.5 388.7L732.7 386.7L732.9 385.1L733.1 383.8L733.8 383.0L734.8 382.6L735.8 382.5L736.5 383.4L736.9 384.5L737.2 385.5L737.5 386.7L737.8 387.9L738.1 389.2L738.4 390.4L738.7 391.9L738.9 393.0L739.1 394.3L739.3 395.5L739.5 396.8L739.7 398.1L739.9 399.4L740.1 400.6L740.3 402.1L740.5 403.8L740.7 405.4L740.9 406.9L741.1 408.0L742.0 406.9L742.2 405.8L742.4 404.4L742.6 403.0L742.8 401.5L743.0 400.1L743.2 398.9L743.4 397.7L743.6 396.6L743.8 395.4L744.0 394.1L744.2 392.8L744.4 391.5L744.6 390.3L744.8 389.1L745.0 388.0L745.2 387.1L745.5 385.8L745.9 384.8L746.4 383.9L747.0 382.9L747.7 382.0L748.5 381.2L749.4 380.7L750.4 380.3L751.4 380.0L752.4 379.8L753.4 379.7L754.3 380.4L754.9 381.2L755.5 382.1L756.2 382.8L757.2 383.0L758.2 383.0L759.2 382.9L760.2 382.8L761.2 382.7L762.2 382.6L763.2 382.5L764.2 382.4L765.2 382.3L766.2 382.2L767.2 382.1L768.2 381.9L769.2 381.8L770.2 381.7L771.2 381.5L772.2 381.4L773.2 381.3L774.2 381.2L775.2 381.1L776.2 381.0L777.2 380.9L778.2 380.8L779.2 380.8L780.2 380.8L781.2 380.8L782.2 380.8L783.2 380.8L784.2 380.8L785.2 380.8L786.2 380.8L787.2 380.8L788.2 380.8L789.2 380.8L790.2 380.8L791.2 380.8L792.2 380.8L793.2 380.8L794.2 380.8L795.2 380.8L796.2 380.8L797.2 380.8L798.2 380.8L799.2 380.7L800.2 380.7L801.2 380.6L802.2 380.5L803.2 380.4L804.2 380.4L805.2 380.3L806.2 380.3L807.2 380.4L808.1 381.0L808.8 381.7L809.5 382.6L810.2 383.5L810.9 384.3L811.5 385.3L812.0 386.2L812.5 387.2L813.0 388.1L813.7 389.0L814.7 389.0L815.4 388.1L816.0 387.1L816.5 386.1L817.0 385.2L817.4 384.1L817.8 383.1L818.7 382.6L819.7 383.0L820.7 383.3L821.6 382.6L822.2 381.6L822.7 380.7L823.4 379.9L824.3 379.3L825.2 378.7L826.2 378.4L827.2 378.4L828.1 378.9L828.9 379.7L829.6 380.4L830.3 381.1L830.9 382.0L831.5 383.0L832.1 384.0L832.7 385.0L833.3 385.8L834.0 386.7L834.7 387.6L835.5 388.2L836.5 388.2L837.5 387.9L838.5 387.6L839.5 387.6L840.3 388.2L841.0 389.1L841.7 390.0L842.4 390.9L843.0 391.7L843.6 392.5L844.3 393.2L845.3 393.5L846.3 393.0L847.2 392.4L848.0 391.8L848.9 391.1L849.9 390.8L850.9 390.8L851.9 390.8L852.9 391.1L853.4 392.2L853.8 393.4L854.2 394.7L854.6 395.8L855.2 396.7L855.9 395.8L856.2 394.8L856.5 393.6L856.8 392.4L857.1 391.2L857.4 390.3L857.8 389.3L858.2 388.3L858.6 387.3L859.1 386.2L859.6 385.2L860.1 384.3L860.7 383.4L861.4 382.6L862.1 381.9L862.9 381.1L863.7 380.5L864.7 380.1L865.7 379.9L866.7 379.9L867.7 379.8L868.7 379.7L869.7 379.7L870.7 379.7L871.7 379.8L872.7 380.2L873.7 380.5L874.7 380.4L875.7 380.0L876.6 379.3L877.5 378.7L878.4 378.3L879.4 377.9L880.4 377.6L881.4 377.3L882.4 377.2L883.4 377.5L884.2 378.2L884.9 378.9L885.6 379.8L886.2 380.6L886.7 381.7L887.2 382.8L887.7 383.7L888.7 383.9L889.2 383.0L889.6 381.9L890.0 380.9L890.4 379.9L891.0 379.0L891.7 378.1L892.4 377.4L893.2 376.7L894.1 376.1L895.1 375.8L896.1 375.7L897.1 375.6L898.1 375.6L899.1 375.5L900.1 375.5L901.1 375.5L902.1 375.6L903.0 376.3L903.7 377.0L904.4 377.8L905.2 378.5L906.2 378.5L906.8 377.6L907.3 376.7L907.9 375.7L908.8 375.0L909.8 374.6L910.8 374.2L911.8 374.0L912.8 373.8L913.8 373.8L914.8 373.9L915.8 374.0L916.8 374.3L917.8 374.5L918.8 374.9L919.7 375.6L920.4 376.4L921.0 377.2L921.6 378.1L922.1 379.2L922.4 380.2L922.7 381.3L923.0 382.6L923.3 384.0L923.6 385.4L923.9 386.9L924.2 388.3L924.5 389.8L924.7 390.9L924.9 392.0L925.1 393.2L925.3 394.3L925.5 395.5L925.7 396.7L925.9 397.8L926.1 398.9L926.3 399.9L926.6 401.3L926.9 402.5L927.2 403.6L927.5 404.6L927.8 405.6L928.2 406.8L928.6 407.8L929.0 408.8L929.5 409.8L930.0 410.8L930.6 411.7L931.5 410.8L931.8 409.8L932.1 408.5L932.4 407.2L932.7 405.6L932.9 404.3L933.1 402.8L933.3 401.1L933.5 399.3L933.7 397.5L933.9 395.7L934.1 394.1L934.3 392.5L934.5 390.9L934.7 389.1L934.9 387.4L935.1 385.7L935.3 384.2L935.5 382.9L935.8 381.7L936.2 380.7L936.7 379.7L937.3 378.7L938.1 378.0L939.1 378.4L939.7 379.2L940.2 380.2L940.6 381.2L941.0 382.5L941.2 383.9L941.4 385.8L941.5 386.8L941.6 388.0L941.7 389.2L941.8 390.5L941.9 391.8L942.0 393.1L942.1 394.5L942.2 395.9L942.3 397.3L942.4 398.6L942.5 400.0L942.6 401.4L942.7 402.9L942.8 404.4L942.9 406.0L943.0 407.7L943.1 409.4L943.2 411.2L943.3 413.1L943.4 414.9L943.5 416.8L943.6 418.7L943.7 420.6L943.8 422.5L943.9 424.4L944.0 426.3L944.1 428.2L944.2 430.0L944.3 432.0L944.4 434.2L944.5 436.5L944.6 439.0L944.7 441.5L944.8 443.9L944.9 446.3L945.0 448.4L945.1 450.4L945.2 452.0L945.3 453.2L945.5 454.3L945.8 453.3L946.0 451.8L946.1 450.7L946.2 449.6L946.3 448.3L946.4 446.9L946.5 445.5L946.6 444.0L946.7 442.4L946.8 440.8L946.9 439.2L947.0 437.5L947.1 435.9L947.2 434.4L947.3 432.8L947.4 431.4L947.5 430.0L947.6 428.6L947.7 427.1L947.8 425.6L947.9 424.0L948.0 422.3L948.1 420.6L948.2 418.9L948.3 417.2L948.4 415.5L948.5 413.9L948.6 412.3L948.7 410.8L948.8 409.4L948.9 408.1L949.0 406.9L949.1 405.9L949.3 404.2L949.5 402.7L949.7 401.3L949.9 400.0L950.1 398.8L950.3 397.7L950.5 396.7L950.8 395.3L951.1 394.0L951.4 392.8L951.7 391.7L952.0 390.7L952.3 389.7L952.7 388.4L953.1 387.2L953.5 386.2L953.9 385.2L954.4 384.2L955.0 383.3L955.7 382.5L956.4 381.7L957.2 380.9L958.1 380.3L959.1 380.0L960.1 380.2L961.0 380.7L961.9 381.4L962.8 382.0L963.8 382.5L964.8 382.5L965.8 382.4L966.8 382.2L967.8 382.0L968.8 381.8L969.8 381.5L970.7 381.0L971.6 380.5L972.6 380.3L973.6 380.6L974.5 381.2L975.3 381.9L976.1 382.7L976.8 383.4L977.4 384.3L977.9 385.2L978.4 386.2L978.9 387.4L979.3 388.3L979.7 389.3L980.1 390.2L980.6 391.3L981.1 392.3L981.6 393.3L982.1 394.2L982.6 395.1L983.1 396.1L983.6 397.0L984.1 398.0L984.6 399.1L985.1 400.2L985.5 401.4L985.8 402.5L986.1 403.5L986.4 404.6L986.8 405.7L987.3 406.6L988.2 405.9L988.6 404.9L989.0 403.6L989.3 402.5L989.6 401.4L989.9 400.3L990.2 399.2L990.5 397.9L990.7 396.9L990.9 395.8L991.1 394.7L991.3 393.6L991.5 392.5L991.7 391.4L992.0 390.0L992.3 388.9L992.7 387.8L993.1 386.9L993.6 385.8L994.1 384.7L994.6 383.7L995.2 382.7L995.8 381.9L996.6 381.1L997.5 380.8"/>
<path class="curve" stroke="#000000" d="M54.5 133.0L55.5 132.9L56.5 132.8L57.5 132.7L58.5 132.6L59.5 132.5L60.5 132.5L61.5 132.4L62.5 132.3L63.5 132.2L64.5 132.1L65.5 132.0L66.5 132.0L67.5 131.9L68.5 131.8L69.5 131.7L70.5 131.6L71.5 131.6L72.5 131.5L73.5 131.4L74.5 131.4L75.5 131.3L76.5 131.2L77.5 131.2L78.5 131.1L79.5 131.1L80.5 131.0L81.5 131.0L82.5 130.9L83.5 130.9L84.5 130.8L85.5 130.8L86.5 130.7L87.5 130.7L88.5 130.6L89.5 130.6L90.5 130.6L91.5 130.6L92.5 130.5L93.5 130.5L94.5 130.5L95.5 130.5L96.5 130.4L97.5 130.4L98.5 130.4L99.5 130.4L100.5 130.3L101.5 130.3L102.5 130.3L103.5 130.3L104.5 130.3L105.5 130.3L106.5 130.2L107.5 130.2L108.5 130.2L109.5 130.2L110.5 130.2L111.5 130.2L112.5 130.1L113.5 130.1L114.5 130.1L115.5 130.1L116.5 130.1L117.5 130.1L118.5 130.0L119.5 130.0L120.5 130.0L121.5 130.0L122.5 129.9L123.5 129.9L124.5 129.9L125.5 129.8L126.5 129.8L127.5 129.8L128.5 129.7L129.5 129.7L130.5 129.7L131.5 129.6L132.5 129.6L133.5 129.6L134.5 129.6L135.5 129.5L136.5 129.5L137.5 129.5L138.5 129.5L139.5 129.5L140.5 129.5L141.5 129.7L142.5 130.1L143.5 130.5L144.5 131.0L145.5 131.4L146.5 131.6L147.5 131.8L148.5 131.5L149.4 131.0L150.3 130.4L151.1 129.8L152.0 129.1L152.9 128.7L153.9 128.5L154.9 128.5L155.9 128.5L156.9 128.6L157.9 128.6L158.9 128.7L159.9 128.8L160.9 128.9L161.9 129.0L162.9 129.0L163.9 129.1L164.9 129.3L165.9 129.4L166.9 129.6L167.9 129.8L168.9 130.0L169.9 130.2L170.9 130.4L171.9 130.6L172.9 130.9L173.9 131.1L174.9 131.4L175.9 131.6L176.9 131.9L177.9 132.1L178.9 132.4L179.9 132.6L180.9 132.9L181.9 133.1L182.9 133.3L183.9 133.5L184.9 133.7L185.9 133.9L186.9 134.1L187.9 134.3L188.9 134.5L189.9 134.8L190.9 135.0L191.9 135.2L192.9 135.4L193.9 135.7L194.9 135.9L195.9 136.1L196.9 136.3L197.9 136.5L198.9 136.7L199.9 136.8L200.9 137.0L201.9 137.1L202.9 137.2L203.9 137.3L204.9 137.4L205.9 137.5L206.9 137.5L207.9 137.5L208.9 137.5L209.9 137.4L210.9 137.3L211.9 137.2L212.9 137.0L213.9 136.8L214.9 136.6L215.9 136.4L216.9 136.2L217.9 136.0L218.9 135.8L219.9 135.5L220.9 135.3L221.9 134.9L222.9 134.6L223.9 134.1L224.9 133.7L225.8 133.2L226.7 132.7L227.6 132.2L228.5 131.8L229.4 131.3L230.3 130.8L231.2 130.3L232.1 129.9L233.1 129.4L234.1 129.0L235.1 128.6L236.1 128.3L237.1 128.1L238.1 127.9L239.1 127.7L240.1 127.6L241.1 127.5L242.1 127.3L243.1 127.2L244.1 127.1L245.1 126.9L246.1 126.8L247.1 126.7L248.1 126.6L249.1 126.5L250.1 126.5L251.1 126.4L252.1 126.3L253.1 126.2L254.1 126.1L255.1 126.1L256.1 126.0L257.1 125.9L258.1 125.9L259.1 125.8L260.1 125.7L261.1 125.7L262.1 125.6L263.1 125.6L264.1 125.5L265.1 125.4L266.1 125.4L267.1 125.3L268.1 125.3L269.1 125.2L270.1 125.2L271.1 125.1L272.1 125.1L273.1 125.1L274.1 125.0L275.1 125.0L276.1 125.0L277.1 125.0L278.1 125.2L279.0 125.8L279.9 126.3L280.9 126.2L281.9 125.9L282.9 125.6L283.9 125.2L284.9 124.8L285.9 124.6L286.9 124.5L287.9 124.5L288.9 124.5L289.9 124.6L290.9 124.6L291.9 124.8L292.7 125.6L293.2 126.5L293.6 127.5L294.0 128.6L294.3 129.6L294.5 130.6L294.7 132.0L294.9 133.6L295.1 135.4L295.3 137.2L295.5 139.1L295.7 140.9L295.9 142.6L296.0 143.6L296.1 144.7L296.2 145.8L296.3 146.9L296.5 148.5L297.5 148.3L298.0 147.4L298.8 146.7L299.2 147.8L299.4 148.8L299.6 150.1L299.8 151.6L300.0 153.3L300.1 154.7L300.2 156.8L300.3 159.5L300.4 162.6L300.5 165.8L300.6 169.1L300.7 172.3L300.8 175.0L300.9 177.7L301.0 180.6L301.1 183.7L301.2 186.8L301.3 189.6L301.4 192.1L301.5 194.0L301.6 195.3L302.1 194.4L302.3 192.9L302.5 191.0L302.6 189.9L302.7 188.8L302.8 187.6L302.9 186.4L303.0 185.2L303.1 184.0L303.2 182.8L303.3 181.7L303.4 180.6L303.5 179.6L303.7 177.9L303.9 176.6L304.7 177.4L304.9 178.8L305.1 180.5L305.3 182.5L305.4 183.5L305.5 184.6L305.6 185.7L305.7 186.8L305.8 187.9L305.9 189.0L306.0 190.2L306.1 191.2L306.2 192.3L306.3 193.3L306.4 194.4L306.5 195.6L306.6 196.9L306.7 198.3L306.8 199.9L306.9 201.4L307.0 203.0L307.1 204.7L307.2 206.3L307.3 207.9L307.4 209.4L307.5 210.9L307.6 212.3L307.7 213.5L307.8 214.6L308.0 216.4L308.3 217.5L308.7 216.4L308.9 215.1L309.1 213.4L309.3 211.4L309.4 210.3L309.5 209.2L309.6 208.0L309.7 206.8L309.8 205.5L309.9 204.2L310.0 202.9L310.1 201.6L310.2 200.4L310.3 199.1L310.4 197.8L310.5 196.6L310.6 195.5L310.7 194.4L310.8 193.3L310.9 192.2L311.0 191.0L311.1 189.7L311.2 188.3L311.3 186.9L311.4 185.5L311.5 184.1L311.6 182.7L311.7 181.3L311.8 180.0L311.9 178.8L312.0 177.8L312.2 176.1L312.5 175.0L312.9 176.4L313.1 177.9L313.3 180.0L313.4 181.2L313.5 182.5L313.6 183.8L313.7 185.2L313.8 186.7L313.9 188.2L314.0 189.8L314.1 191.4L314.2 193.0L314.3 194.9L314.4 197.3L314.5 200.0L314.6 203.1L314.7 206.4L314.8 209.8L314.9 213.2L315.0 216.5L315.1 219.6L315.2 222.5L315.3 225.0L315.4 227.3L315.5 229.7L315.6 232.1L315.7 234.5L315.8 236.9L315.9 239.4L316.0 241.8L316.1 244.2L316.2 246.5L316.3 248.8L316.4 251.0L316.5 253.1L316.6 255.1L316.7 257.0L316.8 258.7L316.9 260.3L317.0 261.7L317.1 263.0L317.2 264.0L317.4 265.5L318.0 264.1L318.2 262.0L318.3 260.7L318.4 259.2L318.5 257.5L318.6 255.8L318.7 253.9L318.8 251.9L318.9 249.8L319.0 247.7L319.1 245.5L319.2 243.2L319.3 240.9L319.4 238.6L319.5 236.3L319.6 234.0L319.7 231.7L319.8 229.4L319.9 227.2L320.0 225.0L320.1 222.6L320.2 219.9L320.3 216.8L320.4 213.5L320.5 209.9L320.6 206.3L320.7 202.6L320.8 198.9L320.9 195.3L321.0 191.9L321.1 188.7L321.2 185.8L321.3 183.3L321.4 181.2L321.5 179.6L321.6 178.6L322.3 179.5L322.6 180.8L322.9 182.2L323.1 183.3L323.4 184.7L323.7 185.8L324.2 186.7L324.5 185.3L324.7 183.3L324.8 182.0L324.9 180.6L325.0 179.2L325.1 177.7L325.2 176.2L325.3 174.8L325.4 173.5L325.5 172.3L325.6 171.3L325.8 170.0L326.1 168.8L326.4 167.8L326.8 166.7L327.4 165.8L328.2 166.7L328.6 167.9L328.9 169.0L329.2 170.2L329.5 171.4L329.8 172.6L330.1 173.7L330.4 175.0L330.6 176.1L330.8 177.1L331.0 178.1L331.3 179.3L332.1 180.0L333.1 180.0L334.1 180.0L335.1 180.7L335.4 182.1L335.6 183.3L335.8 184.7L336.0 186.2L336.2 187.8L336.4 189.4L336.6 191.0L336.8 192.4L337.0 194.0L337.2 195.5L337.4 197.2L337.6 198.9L337.8 200.7L338.0 202.6L338.1 203.6L338.2 204.6L338.3 205.7L338.4 206.8L338.5 207.9L338.6 209.0L338.7 210.2L338.8 211.5L338.9 212.7L339.0 214.0L339.1 215.3L339.2 216.7L339.3 218.3L339.4 220.2L339.5 222.2L339.6 224.4L339.7 226.4L339.8 228.4L339.9 230.0L340.0 231.4L340.1 232.8L340.2 234.1L340.3 235.4L340.4 236.6L340.5 237.8L340.6 238.9L340.7 240.0L340.8 241.1L340.9 242.1L341.0 243.1L341.1 244.1L341.3 246.1L341.5 248.0L341.7 249.9L341.9 251.6L342.1 253.2L342.3 254.8L342.5 256.4L342.7 258.0L342.9 259.7L343.1 261.6L343.2 262.6L343.3 263.8L343.4 265.1L343.5 266.5L343.6 267.9L343.7 269.4L343.8 271.0L343.9 272.6L344.0 274.2L344.1 275.8L344.2 277.3L344.3 278.9L344.4 280.4L344.5 281.8L344.6 283.1L344.7 284.4L344.8 285.5L344.9 286.5L345.1 288.1L345.5 289.0L346.1 288.0L346.4 287.0L346.7 285.7L347.0 284.3L347.2 283.3L347.4 282.2L347.6 281.2L347.8 280.1L348.0 279.0L348.2 277.9L348.4 276.9L348.7 275.4L349.0 274.1L349.3 272.9L349.6 271.6L349.9 270.3L350.2 269.0L350.5 267.7L350.8 266.4L351.1 265.0L351.4 263.6L351.7 262.1L351.9 261.1L352.1 260.0L352.3 259.0L352.5 257.8L352.7 256.7L352.9 255.5L353.1 254.3L353.3 253.1L353.5 251.9L353.7 250.7L353.9 249.5L354.1 248.3L354.3 247.2L354.5 246.0L354.7 244.8L354.9 243.6L355.1 242.4L355.3 241.2L355.5 240.0L355.7 238.8L355.9 237.6L356.1 236.4L356.3 235.2L356.5 234.1L356.7 233.0L356.9 231.9L357.1 230.9L357.4 229.5L357.7 228.2L358.0 226.9L358.3 225.7L358.6 224.6L359.0 223.5L359.5 222.4L360.0 221.5L361.0 221.3L361.5 222.6L361.8 223.6L362.1 224.8L362.4 226.1L362.7 227.4L363.0 228.8L363.3 230.0L363.6 231.4L363.8 232.6L364.0 233.8L364.2 235.0L364.4 236.0L364.7 237.1L365.5 236.0L365.8 234.6L366.0 233.4L366.2 232.1L366.4 230.6L366.6 229.1L366.8 227.4L366.9 226.2L367.0 224.8L367.1 223.2L367.2 221.4L367.3 219.5L367.4 217.5L367.5 215.4L367.6 213.3L367.7 211.2L367.8 209.1L367.9 207.0L368.0 205.1L368.1 203.2L368.2 201.5L368.3 200.0L368.4 198.6L368.5 197.1L368.6 195.7L368.7 194.3L368.8 192.9L368.9 191.5L369.0 190.1L369.1 188.8L369.2 187.5L369.3 186.3L369.4 185.1L369.5 184.0L369.6 183.0L369.8 181.3L370.0 180.0L370.2 179.0L370.5 177.6L370.8 176.4L371.1 175.3L371.5 174.1L371.9 173.1L372.3 172.1L372.8 171.1L373.3 170.1L373.9 169.1L374.5 168.3L375.1 167.5L375.7 166.6L376.3 165.7L376.8 164.8L377.3 163.8L377.8 162.8L378.3 161.6L378.7 160.7L379.1 159.7L379.5 158.8L379.9 157.9L380.4 156.7L380.9 155.7L381.4 154.7L382.0 153.7L382.6 152.7L383.2 151.8L383.8 150.9L384.4 150.0L385.1 149.1L385.8 148.3L386.6 147.6L387.4 146.9L388.2 146.3L389.1 145.7L390.0 145.1L391.0 144.8L392.0 144.7L393.0 144.9L394.0 145.2L395.0 145.3L396.0 145.0L396.9 144.5L397.7 143.9L398.5 143.3L399.4 142.7L400.4 142.4L401.4 142.2L402.4 142.0L403.4 141.8L404.4 141.7L405.4 141.9L406.1 142.6L407.1 142.9L408.0 142.4L408.8 141.7L409.5 141.0L410.2 140.3L411.0 139.6L411.9 139.1L412.9 138.8L413.9 138.5L414.9 138.2L415.9 138.0L416.9 137.8L417.9 137.6L418.9 137.5L419.9 137.5L420.9 137.7L421.8 138.2L422.8 138.6L423.8 138.7L424.8 138.4L425.8 137.9L426.7 137.4L427.6 136.9L428.6 136.6L429.6 136.4L430.6 136.1L431.6 135.9L432.6 135.7L433.6 135.6L434.6 135.4L435.6 135.2L436.6 135.1L437.6 134.9L438.6 134.7L439.6 134.6L440.6 134.4L441.6 134.2L442.6 134.0L443.6 133.8L444.6 133.6L445.6 133.5L446.6 133.3L447.6 133.2L448.6 133.0L449.6 132.9L450.6 132.8L451.6 132.6L452.6 132.5L453.6 132.4L454.6 132.3L455.6 132.1L456.6 132.0L457.6 131.9L458.6 131.8L459.6 131.7L460.6 131.6L461.6 131.5L462.6 131.4L463.6 131.3L464.6 131.2L465.6 131.0L466.6 130.9L467.6 130.8L468.6 130.7L469.6 130.5L470.6 130.4L471.6 130.3L472.6 130.2L473.6 130.1L474.6 130.0L475.6 129.9L476.6 129.8L477.6 129.8L478.6 129.7L479.6 129.7L480.6 129.7L481.6 129.7L482.6 129.7L483.6 129.7L484.6 129.7L485.6 129.7L486.6 129.7L487.6 129.8L488.6 129.8L489.6 129.8L490.6 129.8L491.6 129.8L492.6 129.9L493.6 129.9L494.6 129.9L495.6 130.0L496.6 130.0L497.6 130.2L498.6 130.7L499.5 131.2L500.4 131.8L501.3 132.2L502.3 132.5L503.3 132.2L504.2 131.6L505.1 131.0L506.1 130.8L507.1 131.2L508.0 131.8L508.9 132.3L509.9 132.5L510.9 132.1L511.8 131.5L512.6 130.8L513.4 130.2L514.3 129.7L515.3 129.5L516.3 129.4L517.3 129.4L518.3 129.3L519.3 129.3L520.3 129.3L521.3 129.2L522.3 129.2L523.3 129.2L524.3 129.2L525.3 129.2L526.3 129.7L527.1 130.3L527.8 131.1L528.5 132.1L528.8 133.1L529.1 134.5L529.3 135.5L529.5 136.6L529.7 137.7L529.9 138.7L530.2 140.0L530.6 141.1L531.4 140.1L531.7 138.8L531.9 137.8L532.1 136.7L532.3 135.7L532.5 134.6L532.8 133.2L533.1 132.2L533.6 131.2L534.2 130.4L534.9 129.5L535.7 128.8L536.6 128.3L537.6 128.0L538.6 127.8L539.6 127.6L540.6 127.4L541.6 127.2L542.6 127.0L543.6 126.9L544.6 126.8L545.6 126.6L546.6 126.5L547.6 126.4L548.6 126.3L549.6 126.3L550.6 126.2L551.6 126.1L552.6 126.0L553.6 125.9L554.6 125.8L555.6 125.7L556.6 125.6L557.6 125.5L558.6 125.4L559.6 125.3L560.6 125.2L561.6 125.2L562.6 125.1L563.6 125.0L564.6 124.9L565.6 124.8L566.6 124.7L567.6 124.7L568.6 124.6L569.6 124.6L570.6 124.5L571.6 124.5L572.6 124.5L573.6 124.5L574.6 124.4L575.6 124.4L576.6 124.4L577.6 124.4L578.6 124.4L579.6 124.3L580.6 124.3L581.6 124.3L582.6 124.3L583.6 124.3L584.6 124.3L585.6 124.2L586.6 124.2L587.6 124.2L588.6 124.2L589.6 124.2L590.6 124.2L591.6 124.2L592.6 124.2L593.6 124.2L594.6 124.7L595.4 125.4L596.2 126.2L597.0 127.0L597.7 127.7L598.4 128.6L599.1 129.5L599.7 130.4L600.3 131.2L600.9 132.1L601.5 133.0L602.1 133.9L602.6 134.8L603.1 135.8L603.6 136.8L604.1 137.9L604.6 139.1L605.1 140.2L605.6 141.2L606.1 142.3L606.6 143.2L607.2 144.2L607.9 145.1L608.7 145.7L609.7 145.4L610.2 144.3L610.6 143.0L610.9 141.9L611.2 140.7L611.5 139.5L611.8 138.2L612.1 137.0L612.4 135.9L612.7 134.8L613.1 133.7L613.6 132.7L614.1 131.8L614.6 130.9L615.1 130.0L615.7 129.0L616.3 128.1L617.0 127.3L617.9 126.8L618.9 126.8L619.8 127.4L620.6 128.2L621.3 129.1L621.9 130.0L622.5 130.9L623.1 131.8L623.7 132.6L624.3 133.4L624.9 134.4L625.4 135.3L625.9 136.3L626.4 137.3L626.9 138.2L627.4 139.1L628.0 140.0L628.8 140.7L629.8 140.3L630.3 139.2L630.7 138.0L631.0 137.0L631.3 136.0L631.6 134.9L631.9 133.8L632.2 132.8L632.6 131.5L633.0 130.5L633.6 129.6L634.2 128.7L634.8 127.9L635.5 127.0L636.3 126.3L637.2 125.8L638.2 126.1L638.9 126.8L639.5 127.7L640.0 128.6L640.5 129.6L641.0 130.6L641.5 131.6L642.0 132.5L642.6 133.5L643.2 134.5L643.7 135.4L644.2 136.4L644.7 137.4L645.2 138.4L645.8 139.4L646.5 140.3L647.4 140.8L648.2 140.1L648.6 139.1L649.0 137.9L649.3 136.9L649.6 135.8L649.9 134.7L650.2 133.7L650.5 132.6L650.9 131.5L651.4 130.4L652.2 129.6L653.1 129.0L654.0 128.5L655.0 128.1L656.0 128.0L656.7 128.9L657.2 129.9L657.6 130.9L658.0 132.0L658.4 133.1L658.8 134.1L659.3 135.2L659.7 136.1L660.1 137.1L660.5 138.2L660.9 139.3L661.3 140.3L661.7 141.3L662.2 142.3L662.9 143.2L663.9 143.0L664.6 142.2L665.2 141.2L665.7 140.2L666.2 139.1L666.7 138.1L667.2 137.2L667.8 136.2L668.4 135.2L668.9 134.4L669.4 133.5L670.0 132.5L670.6 131.7L671.4 130.9L672.4 130.6L673.4 130.3L674.4 130.1L675.4 130.0L676.4 130.3L677.1 131.2L677.7 132.2L678.3 133.1L679.1 133.7L680.1 133.4L681.0 132.8L681.8 132.1L682.6 131.3L683.5 130.7L684.4 130.0L685.2 129.4L686.0 128.8L686.9 128.2L687.8 127.7L688.8 127.2L689.8 127.0L690.8 127.0L691.8 127.2L692.8 127.5L693.8 127.9L694.7 128.4L695.6 129.0L696.4 129.7L697.1 130.7L697.5 131.9L697.8 133.3L698.0 134.4L698.2 135.7L698.4 137.2L698.6 138.9L698.8 140.7L698.9 141.7L699.0 142.8L699.1 143.9L699.2 145.0L699.3 146.7L699.4 149.4L699.5 152.9L699.6 156.9L699.7 161.1L699.8 165.4L699.9 169.6L700.0 173.3L700.1 177.0L700.2 181.0L700.3 185.3L700.4 189.8L700.5 194.3L700.6 198.6L700.7 202.8L700.8 206.7L700.9 210.1L701.0 212.9L701.1 215.1L701.2 216.5L701.6 215.3L701.7 214.0L701.8 212.5L701.9 210.6L702.0 208.6L702.1 206.3L702.2 203.9L702.3 201.3L702.4 198.5L702.5 195.7L702.6 192.9L702.7 189.9L702.8 187.0L702.9 184.1L703.0 181.3L703.1 178.5L703.2 175.8L703.3 173.3L703.4 170.5L703.5 167.3L703.6 163.7L703.7 160.1L703.8 156.7L703.9 153.7L704.0 151.2L704.1 149.6L704.7 150.6L704.9 151.9L705.1 153.4L705.3 155.2L705.5 156.9L705.7 158.7L705.9 160.4L706.1 161.8L706.3 163.0L706.6 163.9L707.0 162.1L707.1 160.8L707.2 159.3L707.3 157.5L707.4 155.6L707.5 153.6L707.6 151.5L707.7 149.4L707.8 147.4L707.9 145.5L708.0 143.8L708.1 142.2L708.2 141.0L708.4 139.2L708.6 137.7L708.8 136.2L709.0 134.8L709.2 133.4L709.4 132.2L709.6 131.0L709.8 130.0L710.1 128.8L710.5 127.8L711.5 127.6L712.5 128.0L713.4 128.6L714.2 129.3L715.0 130.0L715.6 131.1L716.0 132.1L716.4 133.2L716.8 134.2L717.4 135.0L718.1 133.9L718.4 132.8L718.7 131.6L719.0 130.2L719.3 129.0L719.7 127.9L720.6 127.3L721.6 127.1L722.6 127.0L723.6 127.1L724.4 127.7L725.0 128.6L725.5 129.7L725.9 130.7L726.3 131.9L726.6 132.9L726.9 134.3L727.1 135.9L727.2 136.9L727.3 138.1L727.4 139.4L727.5 140.8L727.6 142.4L727.7 144.0L727.8 145.8L727.9 147.8L728.0 149.8L728.1 152.0L728.2 154.3L728.3 156.7L728.4 159.9L728.5 164.4L728.6 169.9L728.7 176.3L728.8 183.3L728.9 190.6L729.0 198.1L729.1 205.6L729.2 212.7L729.3 219.2L729.4 225.0L729.5 230.5L729.6 236.4L729.7 242.5L729.8 248.6L729.9 254.8L730.0 260.8L730.1 266.6L730.2 271.9L730.3 276.8L730.4 281.1L730.5 284.6L730.6 287.2L730.7 288.9L731.0 285.8L731.1 281.5L731.2 276.1L731.3 269.8L731.4 262.9L731.5 255.7L731.6 248.4L731.7 241.4L731.8 235.0L731.9 229.4L732.0 225.0L732.1 221.3L732.2 217.8L732.3 214.5L732.4 211.3L732.5 208.3L732.6 205.3L732.7 202.5L732.8 199.8L732.9 197.2L733.0 194.7L733.1 192.2L733.2 189.7L733.3 187.4L733.4 185.0L733.5 182.6L733.6 180.0L733.7 177.3L733.8 174.6L733.9 172.0L734.0 169.4L734.1 167.0L734.2 164.8L734.3 162.9L734.4 161.3L734.5 160.0L734.7 159.0L735.1 160.2L735.3 161.5L735.5 163.1L735.7 165.0L735.9 166.9L736.1 168.8L736.3 170.5L736.5 171.9L736.7 173.0L737.0 174.0L737.4 175.0L737.9 175.9L738.4 176.9L738.8 178.1L739.1 179.4L739.3 180.9L739.4 182.4L739.5 184.4L739.6 186.9L739.7 189.7L739.8 192.9L739.9 196.4L740.0 200.0L740.1 204.7L740.2 211.1L740.3 218.4L740.4 226.1L740.5 233.5L740.6 240.0L740.7 246.2L740.8 252.8L740.9 259.7L741.0 266.5L741.1 273.0L741.2 278.9L741.3 283.9L741.4 287.8L741.5 290.4L741.9 288.7L742.0 286.8L742.1 284.6L742.2 282.1L742.3 279.3L742.4 276.5L742.5 273.5L742.6 270.5L742.7 267.6L742.8 264.8L742.9 262.3L743.0 260.0L743.1 257.9L743.2 256.0L743.3 254.1L743.4 252.2L743.5 250.4L743.6 248.6L743.7 246.8L743.8 245.0L743.9 243.2L744.0 241.2L744.1 239.2L744.2 237.1L744.3 234.9L744.4 232.5L744.5 230.0L744.6 227.1L744.7 223.8L744.8 220.1L744.9 216.1L745.0 211.9L745.1 207.6L745.2 203.3L745.3 199.0L745.4 194.9L745.5 191.1L745.6 187.6L745.7 184.5L745.8 182.0L745.9 179.8L746.0 177.5L746.1 175.4L746.2 173.2L746.3 171.2L746.4 169.2L746.5 167.3L746.6 165.5L746.7 163.8L746.8 162.2L746.9 160.7L747.0 159.4L747.1 158.2L747.2 157.1L747.4 155.5L747.7 154.2L748.0 153.1L748.3 152.1L748.7 151.0L749.2 150.0L749.7 149.1L750.3 148.2L750.9 147.4L751.5 146.5L752.1 145.7L752.8 144.8L753.5 144.0L754.4 143.4L755.4 143.7L755.8 144.6L756.1 145.6L756.4 146.8L756.7 148.1L757.0 149.5L757.3 150.8L757.6 152.2L757.8 153.3L758.0 154.5L758.2 155.9L758.4 157.3L758.6 158.5L758.8 159.6L759.1 160.6L760.0 161.2L760.9 161.9L761.1 162.9L761.3 164.5L761.5 166.6L761.6 167.7L761.7 168.9L761.8 170.0L761.9 171.2L762.0 172.3L762.1 173.4L762.2 174.4L762.4 176.1L762.6 177.2L762.8 178.3L763.0 179.4L763.2 180.4L763.5 181.8L763.8 182.8L764.7 182.3L765.0 181.0L765.2 180.0L765.4 178.9L765.6 177.7L765.8 176.6L766.0 175.5L766.3 174.2L766.7 173.3L767.6 172.7L768.6 173.4L768.8 174.7L769.0 176.4L769.2 178.4L769.3 179.4L769.4 180.5L769.5 181.5L769.7 183.3L769.9 185.3L770.0 186.5L770.1 187.7L770.2 188.9L770.3 190.0L770.4 191.1L770.6 192.7L771.1 191.1L771.2 189.5L771.3 187.7L771.4 185.7L771.5 183.6L771.6 181.3L771.7 179.1L771.8 177.0L771.9 175.0L772.0 173.3L772.1 171.5L772.2 169.6L772.3 167.5L772.4 165.5L772.5 163.7L772.6 162.3L772.7 161.2L773.3 160.3L774.2 159.7L775.2 159.4L776.2 159.2L777.2 159.4L778.0 160.1L778.7 160.8L779.5 161.5L780.5 161.4L781.1 160.6L781.6 159.7L782.1 158.8L782.7 157.9L783.7 157.8L784.2 159.0L784.5 160.0L784.8 161.2L785.1 162.4L785.4 163.5L785.7 164.7L786.0 165.8L786.3 167.1L786.5 168.1L786.7 169.1L787.0 170.5L787.3 171.6L788.3 170.9L788.5 169.5L788.7 167.8L788.9 165.9L789.1 164.0L789.3 162.1L789.5 160.2L789.7 158.6L789.9 157.2L790.1 156.2L790.3 155.2L790.5 154.2L790.7 153.2L790.9 152.2L791.2 150.8L791.5 149.6L791.8 148.6L792.3 147.6L793.3 148.0L793.9 149.0L794.4 150.1L794.8 151.0L795.2 151.9L795.6 152.9L796.0 153.8L796.4 155.1L796.7 156.1L797.0 157.2L797.4 158.4L798.0 159.2L798.6 158.0L798.9 156.7L799.1 155.6L799.3 154.5L799.5 153.3L799.7 152.1L799.9 150.9L800.1 149.7L800.3 148.7L800.6 147.4L801.0 146.1L801.4 145.0L801.8 144.0L802.2 143.0L802.7 142.1L803.7 141.8L804.4 142.7L804.9 143.7L805.3 144.6L805.7 145.6L806.1 146.7L806.5 147.8L806.9 148.9L807.2 150.0L807.5 151.3L807.8 152.6L808.1 154.0L808.4 155.2L808.7 156.3L809.1 157.3L809.8 158.1L810.7 158.6L811.6 159.1L812.4 159.9L812.8 161.2L813.0 162.6L813.2 164.3L813.4 166.2L813.6 167.9L813.8 169.4L814.0 170.4L814.6 169.6L814.8 168.3L815.0 166.7L815.2 165.1L815.4 163.7L815.6 162.5L815.9 161.5L816.4 160.4L817.0 159.5L818.0 160.1L818.3 161.3L818.5 162.4L818.7 163.6L818.9 165.0L819.1 166.4L819.3 168.0L819.5 169.5L819.7 171.0L819.9 172.6L820.1 174.1L820.3 175.8L820.5 177.8L820.6 178.9L820.7 180.0L820.8 181.1L820.9 182.2L821.0 183.3L821.1 184.4L821.2 185.4L821.3 186.5L821.5 188.4L821.7 190.0L821.9 191.6L822.1 193.2L822.3 194.7L822.5 195.9L823.4 195.3L823.7 193.8L823.9 192.7L824.1 191.5L824.3 190.3L824.5 189.2L824.8 187.9L825.0 186.9L825.2 185.8L825.4 184.7L825.6 183.6L825.8 182.6L826.1 181.3L826.5 180.2L827.2 180.9L827.5 182.1L827.7 183.1L827.9 184.3L828.1 185.6L828.3 187.0L828.5 188.4L828.7 189.9L828.9 191.3L829.1 192.6L829.3 194.0L829.5 195.3L829.7 196.8L829.9 198.4L830.1 200.0L830.3 201.7L830.5 203.4L830.7 205.1L830.9 206.8L831.1 208.5L831.3 210.2L831.5 211.8L831.7 213.3L831.9 214.9L832.1 216.7L832.3 218.6L832.5 220.5L832.7 222.3L832.9 223.9L833.1 225.4L833.3 226.5L833.7 227.5L834.2 226.2L834.4 225.0L834.6 223.6L834.8 222.0L835.0 220.3L835.2 218.5L835.4 216.7L835.6 214.9L835.8 213.3L836.0 211.6L836.2 209.6L836.3 208.6L836.4 207.5L836.5 206.4L836.6 205.2L836.7 204.1L836.8 202.9L836.9 201.8L837.0 200.6L837.1 199.5L837.2 198.4L837.3 197.3L837.4 196.2L837.6 194.3L837.8 192.6L838.0 191.3L838.3 190.0L838.7 189.0L839.1 188.1L839.6 187.1L840.2 186.1L840.9 185.3L841.9 185.0L842.6 185.8L843.2 186.8L843.7 187.8L844.3 188.7L845.2 189.2L846.0 188.5L846.5 187.6L847.0 186.4L847.4 185.3L847.7 183.9L847.9 182.1L848.0 181.0L848.1 179.8L848.2 178.5L848.3 177.1L848.4 175.7L848.5 174.3L848.6 172.9L848.7 171.6L848.8 170.4L848.9 169.2L849.0 168.2L849.2 166.7L849.4 165.6L849.6 164.5L849.8 163.4L850.0 162.4L850.3 161.0L850.6 159.7L850.9 158.7L851.3 157.5L851.9 156.7L852.5 157.9L852.7 159.0L852.9 160.3L853.1 161.9L853.3 163.7L853.5 165.7L853.6 166.7L853.7 167.8L853.8 168.8L853.9 169.9L854.0 171.1L854.1 172.2L854.2 173.3L854.3 174.7L854.4 176.4L854.5 178.5L854.6 180.9L854.7 183.5L854.8 186.2L854.9 188.9L855.0 191.6L855.1 194.2L855.2 196.5L855.3 198.7L855.4 200.5L855.5 201.8L855.7 203.0L856.0 201.8L856.2 199.9L856.3 198.7L856.4 197.3L856.5 195.8L856.6 194.3L856.7 192.6L856.8 190.9L856.9 189.2L857.0 187.5L857.1 185.9L857.2 184.3L857.3 182.7L857.4 181.3L857.5 180.0L857.6 178.7L857.7 177.4L857.8 175.9L857.9 174.5L858.0 173.0L858.1 171.5L858.2 170.0L858.3 168.5L858.4 167.1L858.5 165.8L858.6 164.5L858.7 163.4L858.8 162.4L859.0 160.8L859.3 159.8L860.0 159.1L860.8 158.3L861.3 157.2L861.7 156.0L862.0 155.0L862.3 154.1L862.7 152.9L863.2 151.8L863.9 151.1L864.7 150.4L865.7 150.0L866.7 150.1L867.7 150.2L868.7 150.6L869.6 151.0L870.3 152.0L870.5 153.1L870.7 154.4L870.9 156.0L871.1 157.7L871.3 159.6L871.5 161.5L871.7 163.3L871.8 164.3L871.9 165.5L872.0 166.9L872.1 168.4L872.2 169.9L872.3 171.5L872.4 173.0L872.5 174.4L872.6 175.7L872.7 176.7L872.9 178.1L873.4 176.4L873.6 174.5L873.7 173.4L873.8 172.2L873.9 170.9L874.0 169.7L874.1 168.5L874.2 167.3L874.3 166.2L874.5 164.4L874.7 163.3L875.0 162.3L875.4 161.2L876.4 161.0L877.2 161.8L878.0 162.4L878.8 161.5L879.1 160.0L879.3 158.9L879.5 157.6L879.7 156.2L879.9 154.9L880.1 153.5L880.3 152.3L880.5 151.2L880.8 150.0L881.1 149.0L881.4 148.1L881.8 146.8L882.2 145.7L882.7 144.7L883.7 144.8L884.0 145.8L884.3 147.2L884.5 148.4L884.7 149.6L884.9 150.9L885.1 152.2L885.3 153.6L885.5 154.9L885.7 156.1L885.9 157.3L886.1 158.7L886.3 160.3L886.5 161.9L886.7 163.7L886.9 165.5L887.1 167.2L887.3 168.8L887.5 170.3L887.7 171.5L888.0 172.8L888.7 171.6L888.9 169.8L889.0 168.7L889.1 167.5L889.2 166.3L889.3 165.0L889.4 163.7L889.5 162.4L889.6 161.1L889.7 159.9L889.8 158.7L889.9 157.6L890.1 155.8L890.3 153.9L890.5 152.0L890.7 150.0L890.8 149.0L891.0 147.0L891.2 145.1L891.4 143.3L891.6 141.6L891.8 140.1L892.0 138.8L892.2 137.7L892.5 136.7L893.0 135.6L893.5 134.6L894.0 133.7L894.6 132.8L895.2 132.0L895.9 131.2L896.7 130.5L897.7 130.1L898.7 130.0L899.7 130.5L900.5 131.4L901.1 132.2L901.6 133.1L902.1 134.1L902.5 135.0L902.8 136.6L903.0 138.4L903.1 139.5L903.2 140.7L903.3 142.0L903.4 143.3L903.5 144.7L903.6 146.0L903.7 147.4L903.8 148.7L903.9 150.0L904.0 151.2L904.1 152.3L904.2 153.3L904.4 155.3L904.5 156.4L904.6 157.5L904.7 158.6L904.8 159.7L904.9 160.8L905.0 161.9L905.2 163.8L905.4 165.3L905.6 166.3L906.2 165.5L906.4 164.2L906.6 162.5L906.8 160.5L906.9 159.5L907.0 158.4L907.1 157.4L907.2 156.3L907.3 155.3L907.4 154.3L907.6 152.3L907.7 151.2L907.8 149.9L907.9 148.6L908.0 147.2L908.1 145.8L908.2 144.4L908.3 143.0L908.4 141.5L908.5 140.2L908.6 138.8L908.7 137.6L908.8 136.5L908.9 135.4L909.1 133.8L909.3 132.9L909.6 131.6L909.9 130.5L910.2 129.5L910.6 128.3L911.0 127.3L911.5 126.3L912.1 125.4L912.9 124.7L913.8 124.0L914.7 123.5L915.7 123.3L916.7 123.7L917.4 124.6L918.0 125.6L918.5 126.6L918.9 127.5L919.3 128.6L919.6 129.8L919.8 130.8L920.0 132.0L920.2 133.4L920.4 135.0L920.6 136.7L920.8 138.5L921.0 140.5L921.1 141.5L921.2 142.6L921.3 143.7L921.4 144.8L921.5 146.0L921.6 147.1L921.7 148.3L921.8 149.6L921.9 151.1L922.0 152.9L922.1 154.7L922.2 156.8L922.3 158.9L922.4 161.2L922.5 163.5L922.6 165.8L922.7 168.2L922.8 170.6L922.9 173.0L923.0 175.3L923.1 177.5L923.2 179.7L923.3 181.7L923.4 183.6L923.5 185.6L923.6 187.5L923.7 189.4L923.8 191.3L923.9 193.2L924.0 195.0L924.1 196.9L924.2 198.7L924.3 200.5L924.4 202.3L924.5 204.2L924.6 206.0L924.7 207.8L924.8 209.5L924.9 211.3L925.0 213.1L925.1 214.9L925.2 216.7L925.3 218.4L925.4 220.2L925.5 222.0L925.6 223.8L925.7 225.5L925.8 227.3L925.9 229.1L926.0 230.8L926.1 232.5L926.2 234.3L926.3 236.0L926.4 237.7L926.5 239.4L926.6 241.2L926.7 242.9L926.8 244.6L926.9 246.3L927.0 248.0L927.1 249.8L927.2 251.8L927.3 254.0L927.4 256.2L927.5 258.4L927.6 260.6L927.7 262.7L927.8 264.6L927.9 266.3L928.0 267.8L928.1 268.9L928.7 267.0L928.8 265.6L928.9 264.0L929.0 262.2L929.1 260.4L929.2 258.5L929.3 256.5L929.4 254.6L929.5 252.7L929.6 251.0L929.7 249.4L929.8 248.0L929.9 246.7L930.0 245.5L930.1 244.4L930.2 243.3L930.3 242.2L930.4 241.2L930.5 240.2L930.6 239.2L930.7 238.2L930.8 237.2L930.9 236.2L931.0 235.1L931.1 234.1L931.2 232.9L931.3 231.8L931.4 230.6L931.5 229.3L931.6 227.9L931.7 226.5L931.8 225.0L931.9 223.3L932.0 221.4L932.1 219.3L932.2 217.0L932.3 214.6L932.4 212.1L932.5 209.5L932.6 206.9L932.7 204.3L932.8 201.7L932.9 199.1L933.0 196.6L933.1 194.3L933.2 192.1L933.3 190.0L933.4 188.0L933.5 186.1L933.6 184.1L933.7 182.2L933.8 180.3L933.9 178.4L934.0 176.5L934.1 174.6L934.2 172.8L934.3 171.1L934.4 169.3L934.5 167.7L934.6 166.1L934.7 164.5L934.8 163.0L934.9 161.6L935.0 160.2L935.1 159.0L935.2 157.8L935.3 156.7L935.4 155.7L935.5 154.6L935.6 153.5L935.7 152.5L935.8 151.4L935.9 150.4L936.0 149.3L936.1 148.3L936.2 147.3L936.4 145.4L936.6 143.6L936.8 141.9L937.0 140.5L937.2 139.2L937.4 138.1L937.7 137.1L938.5 138.2L938.7 139.6L938.9 141.4L939.0 142.5L939.1 143.6L939.2 144.8L939.3 146.0L939.4 147.4L939.5 148.8L939.6 150.3L939.7 151.8L939.8 153.4L939.9 155.0L940.0 156.7L940.1 158.7L940.2 161.4L940.3 164.5L940.4 168.2L940.5 172.3L940.6 176.7L940.7 181.4L940.8 186.3L940.9 191.3L941.0 196.5L941.1 201.6L941.2 206.7L941.3 212.1L941.4 218.0L941.5 224.2L941.6 230.5L941.7 236.7L941.8 242.8L941.9 249.0L942.0 255.2L942.1 261.2L942.2 267.0L942.3 272.6L942.4 278.2L942.5 283.7L942.6 289.1L942.7 294.5L942.8 299.7L942.9 304.7L943.0 309.6L943.1 314.3L943.2 318.8L943.3 323.0L943.4 327.2L943.5 331.7L943.6 336.3L943.7 340.8L943.8 345.2L943.9 349.3L944.0 352.9L944.1 356.0L944.2 358.4L944.3 359.9L944.7 357.2L944.8 355.0L944.9 352.3L945.0 349.2L945.1 345.8L945.2 342.1L945.3 338.3L945.4 334.4L945.5 330.5L945.6 326.7L945.7 323.0L945.8 319.1L945.9 314.8L946.0 310.0L946.1 304.9L946.2 299.7L946.3 294.3L946.4 289.0L946.5 283.9L946.6 279.0L946.7 274.5L946.8 270.5L946.9 267.0L947.0 263.9L947.1 260.9L947.2 257.9L947.3 255.0L947.4 252.2L947.5 249.5L947.6 246.8L947.7 244.2L947.8 241.7L947.9 239.3L948.0 237.0L948.1 234.8L948.2 232.7L948.3 230.7L948.4 228.8L948.5 227.1L948.6 225.4L948.7 223.9L948.8 222.5L948.9 221.2L949.0 220.0L949.1 218.9L949.3 217.0L949.5 215.4L949.7 213.9L949.9 212.6L950.1 211.3L950.3 210.1L950.5 208.8L950.7 207.4L950.9 205.9L951.1 204.4L951.3 202.7L951.5 201.1L951.7 199.4L951.9 197.7L952.1 195.9L952.3 194.2L952.5 192.5L952.7 190.7L952.9 189.0L953.1 187.3L953.3 185.6L953.5 184.0L953.7 182.3L953.9 180.8L954.1 179.3L954.3 177.8L954.5 176.4L954.7 175.1L954.9 173.9L955.1 172.7L955.3 171.6L955.5 170.4L955.7 169.3L955.9 168.2L956.1 167.1L956.3 166.0L956.5 165.0L956.7 164.0L957.0 162.6L957.3 161.3L957.6 160.2L958.0 159.0L958.5 157.9L959.0 157.0L959.6 156.2L960.6 155.9L961.3 156.6L961.9 157.6L962.4 158.6L962.9 159.4L963.6 160.4L964.3 161.3L965.0 162.1L966.0 162.4L966.5 161.4L966.9 160.1L967.2 159.0L967.5 157.9L967.8 156.9L968.2 156.0L968.9 155.0L969.6 154.2L970.4 153.5L971.3 153.1L972.3 153.1L973.2 153.6L974.0 154.3L974.7 155.1L975.3 155.9L975.9 156.9L976.3 157.9L976.6 159.1L976.9 160.4L977.1 161.4L977.3 162.5L977.5 163.6L977.7 164.7L977.9 165.9L978.1 167.1L978.3 168.3L978.5 169.5L978.7 170.7L978.9 171.8L979.1 172.8L979.3 173.8L979.6 175.2L979.9 176.6L980.2 178.0L980.5 179.4L980.8 180.8L981.1 182.2L981.4 183.6L981.7 185.0L982.0 186.5L982.2 187.4L982.4 188.5L982.6 189.5L982.8 190.5L983.0 191.6L983.2 192.7L983.4 193.9L983.6 195.0L983.8 196.3L984.0 197.5L984.2 198.7L984.4 200.0L984.6 201.4L984.8 202.7L985.0 204.1L985.2 205.5L985.4 207.0L985.6 208.5L985.8 210.0L986.0 211.8L986.1 212.8L986.2 213.9L986.3 215.0L986.4 216.2L986.5 217.4L986.6 218.6L986.7 219.7L986.8 220.8L986.9 221.8L987.1 223.5L987.3 224.6L987.9 223.3L988.1 221.5L988.2 220.4L988.3 219.1L988.4 217.8L988.5 216.5L988.6 215.0L988.7 213.6L988.8 212.2L988.9 210.7L989.0 209.3L989.1 208.0L989.2 206.7L989.3 205.4L989.4 204.0L989.5 202.4L989.6 200.9L989.7 199.2L989.8 197.5L989.9 195.8L990.0 194.1L990.1 192.5L990.2 190.9L990.3 189.3L990.4 187.8L990.5 186.5L990.6 185.3L990.7 184.2L990.9 182.5L991.1 181.0L991.3 179.6L991.5 178.4L991.7 177.2L991.9 176.1L992.1 175.1L992.4 173.6L992.7 172.3L993.0 171.1L993.3 170.0L993.6 168.9L993.9 167.8L994.2 166.7L994.5 165.7L994.8 164.7L995.1 163.7L995.5 162.5L995.9 161.4L996.3 160.4L996.8 159.4L997.4 158.4L997.5 158.3"/>
</g>
<g>
<polyline class="lead" points="207,139 207,176.3"/>
<polyline class="lead" points="317.4,268 317.4,306.9"/>
<polyline class="lead" points="345.6,291 345.6,328.2"/>
<polyline class="lead" points="365,239 365,277.8"/>
<polyline class="lead" points="701.3,218 701.3,255.9"/>
<polyline class="lead" points="731,290 731,329"/>
<polyline class="lead" points="742,292 742,330.8"/>
<polyline class="lead" points="833.8,228 833.8,267.5"/>
<polyline class="lead" points="855.5,204 855.5,244"/>
<polyline class="lead" points="928.2,271 928.2,309.2"/>
<polyline class="lead" points="944.4,361 944.4,374.6 961.2,354.5"/>
<polyline class="lead" points="318,388 318,425.8"/>
<polyline class="lead" points="347,421 347,460.3"/>
<polyline class="lead" points="365.7,404 365.7,441.9"/>
<polyline class="lead" points="730.8,406 730.8,446.5"/>
<polyline class="lead" points="741.7,408 741.7,447.8"/>
<polyline class="lead" points="931.3,412 931.3,451.6"/>
<polyline class="lead" points="945.5,448 945.5,486.5"/>
<polyline class="lead" points="236.9,689 236.9,729.4"/>
<polyline class="lead" points="683.7,574 683.7,612.2"/>
<polyline class="lead" points="842.6,745 842.6,771.2 831.2,765.9"/>
<polyline class="lead" points="967.5,702 967.5,743"/>
<text class="ann" transform="translate(199.75 223.8) rotate(-90)">3430.55</text>
<text class="ann" transform="translate(309 335.3) rotate(-90)">3025.41</text>
<text class="ann" transform="translate(340.05 361.5) rotate(-90)">2922.91</text>
<text class="ann" transform="translate(388 310) rotate(-90)">2851.11</text>
<text class="ann" transform="translate(692.8 289) rotate(-90)">1600.95</text>
<text class="ann" transform="translate(723.55 355.8) rotate(-90)">1492.90</text>
<text class="ann" transform="translate(764.25 357.7) rotate(-90)">1452.42</text>
<text class="ann" transform="translate(825.15 314) rotate(-90)">1110.89</text>
<text class="ann" transform="translate(876.4 289) rotate(-90)">1028.34</text>
<text class="ann" transform="translate(922.4 343.75) rotate(-90)">757.81</text>
<text class="ann" transform="translate(979.7 364.05) rotate(-90)">698.00</text>
<text class="ann" transform="translate(309.3 473.5) rotate(-90)">3024.96</text>
<text class="ann" transform="translate(340.1 482) rotate(-90)">2916.90</text>
<text class="ann" transform="translate(402.5 481.35) rotate(-90)">2849.19</text>
<text class="ann" transform="translate(723.3 482.65) rotate(-90)">1492.32</text>
<text class="ann" transform="translate(764.3 482) rotate(-90)">1451.71</text>
<text class="ann" transform="translate(924 486.45) rotate(-90)">747.79</text>
<text class="ann" transform="translate(970.4 512.35) rotate(-90)">694.50</text>
<text class="ann" transform="translate(230.8 767) rotate(-90)">3329.42</text>
<text class="ann" transform="translate(675.15 657.8) rotate(-90)">1668.87</text>
<text class="ann" transform="translate(827.8 774.75) rotate(-90)">1075.27</text>
<text class="ann" transform="translate(958.9 768) rotate(-90)">614.26</text>
</g>
<rect x="55.0" y="85.6" width="943.1" height="692.8" fill="none" stroke="#000" stroke-width="2.6"/>
<path d="M122.36 778.4 V772.2M189.73 778.4 V765.8M257.09 778.4 V772.2M324.46 778.4 V765.8M391.82 778.4 V772.2M459.19 778.4 V765.8M526.55 778.4 V772.2M593.91 778.4 V765.8M661.28 778.4 V772.2M728.64 778.4 V765.8M796.01 778.4 V772.2M863.37 778.4 V765.8M930.74 778.4 V772.2" fill="none" stroke="#000" stroke-width="2.6"/>
<text class="tick" transform="translate(55.0 817.1) scale(1 1.113)">4000</text>
<text class="tick" transform="translate(189.7 817.1) scale(1 1.113)">3500</text>
<text class="tick" transform="translate(324.5 817.1) scale(1 1.113)">3000</text>
<text class="tick" transform="translate(459.2 817.1) scale(1 1.113)">2500</text>
<text class="tick" transform="translate(593.9 817.1) scale(1 1.113)">2000</text>
<text class="tick" transform="translate(728.6 817.1) scale(1 1.113)">1500</text>
<text class="tick" transform="translate(863.4 817.1) scale(1 1.113)">1000</text>
<text class="tick" transform="translate(998.1 817.1) scale(1 1.113)">500</text>
<text class="title" x="386.3" y="884.6">Wavenumber/cm</text>
<text class="title" transform="translate(634.3 872.8) scale(1 1.09)" style="font-size:36.2px">-<tspan dx="1.6">1</tspan></text>
<text class="title" style="font-size:33.8px" transform="translate(22.8 571.9) rotate(-90)">Transmittance/%</text>
<g>
<rect x="779.5" y="0" width="218" height="82" fill="#fff" stroke="#111" stroke-width="1.2"/>
<line x1="780.5" x2="821.5" y1="11.5" y2="11.5" stroke="#ff0000" stroke-width="5"/>
<line x1="780.5" x2="821.5" y1="41.2" y2="41.2" stroke="#0000ff" stroke-width="5"/>
<line x1="780.5" x2="821.5" y1="66" y2="66" stroke="#000000" stroke-width="5"/>
<text class="leg" transform="translate(832 19.5) scale(1 1.057)">Na<tspan dy="4.3" font-size="13.5px">2</tspan><tspan dy="-4.3">SO</tspan><tspan dy="4.3" font-size="13.5px">4</tspan><tspan dy="-4.3">·10H</tspan><tspan dy="4.3" font-size="13.5px">2</tspan><tspan dy="-4.3">O</tspan></text>
<text class="leg" transform="translate(832 48) scale(1 1.11)" style="font-weight:normal;font-size:19.6px;stroke:#000;stroke-width:0.3">PS</text>
<text class="leg" transform="translate(832 73.8) scale(1 1.057)">Na<tspan dy="4.3" font-size="13.5px">2</tspan><tspan dy="-4.3">SO</tspan><tspan dy="4.3" font-size="13.5px">4</tspan><tspan dy="-4.3">·10H</tspan><tspan dy="4.3" font-size="13.5px">2</tspan><tspan dy="-4.3">O/PS</tspan></text>
</g>
</svg>
</body>
</html>
